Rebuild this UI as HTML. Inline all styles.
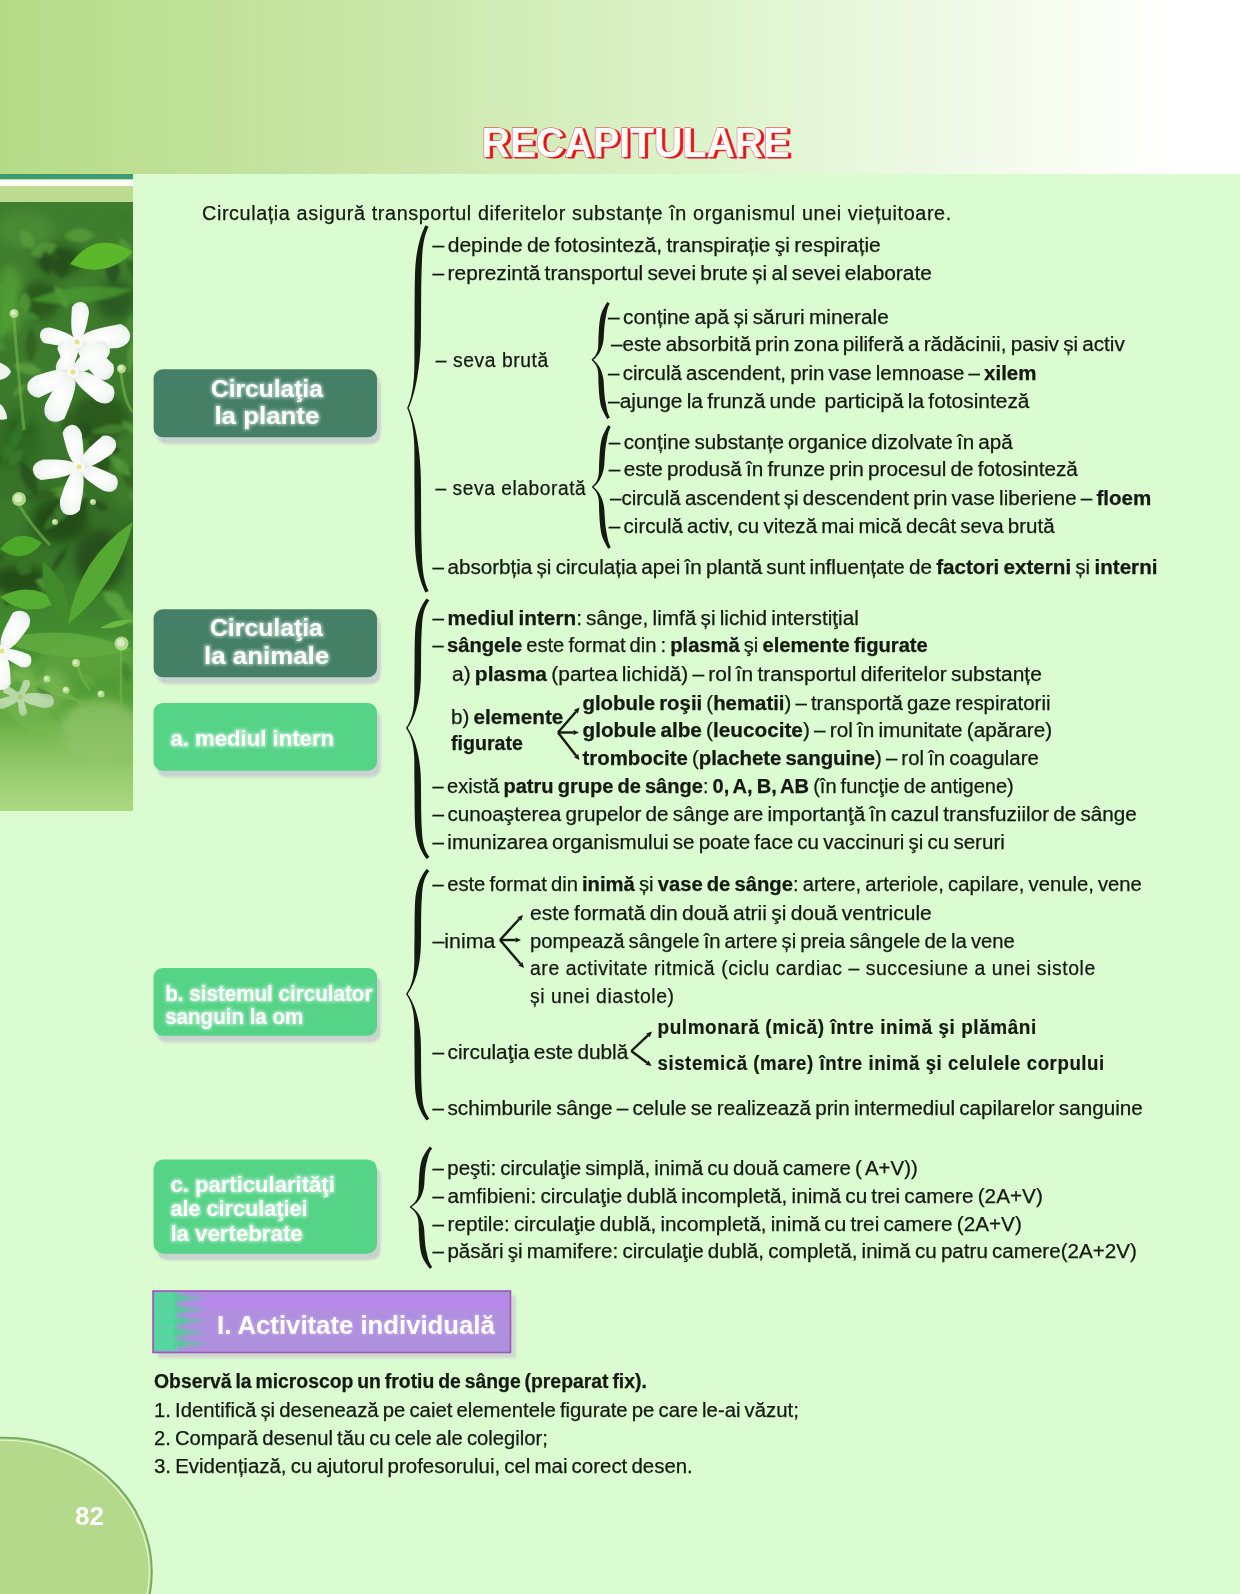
<!DOCTYPE html><html><head><meta charset="utf-8"><style>html,body{margin:0;padding:0;width:1240px;height:1594px;overflow:hidden;background:#dbfbd0}svg{display:block}text{font-family:"Liberation Sans",sans-serif;white-space:pre}</style></head><body>
<svg width="1240" height="1594" viewBox="0 0 1240 1594">
<defs>
<linearGradient id="hdr" x1="0" y1="0" x2="1" y2="0">
<stop offset="0" stop-color="#b5db87"/><stop offset="0.25" stop-color="#c6e4a2"/><stop offset="0.5" stop-color="#d8f0c2"/><stop offset="0.58" stop-color="#ddf4cc"/><stop offset="0.75" stop-color="#eef9e5"/><stop offset="0.87" stop-color="#f9fdf3"/><stop offset="0.95" stop-color="#ffffff"/><stop offset="1" stop-color="#ffffff"/>
</linearGradient>
<linearGradient id="fade" x1="0" y1="0" x2="0" y2="1">
<stop offset="0" stop-color="#b9dc93" stop-opacity="0"/><stop offset="0.55" stop-color="#b9dc93" stop-opacity="0.55"/><stop offset="1" stop-color="#bfe09a" stop-opacity="1"/>
</linearGradient>
<linearGradient id="dots" x1="0" y1="0" x2="1" y2="0">
<stop offset="0" stop-color="#4fdc9c"/><stop offset="0.45" stop-color="#4fd49a"/><stop offset="1" stop-color="#4fd49a" stop-opacity="0"/>
</linearGradient>
<linearGradient id="ban" x1="0" y1="1291" x2="0" y2="1352.5" gradientUnits="userSpaceOnUse">
<stop offset="0" stop-color="#ad90dc"/><stop offset="0.15" stop-color="#b886ec"/><stop offset="0.35" stop-color="#b08ee0"/><stop offset="1" stop-color="#ae90dc"/>
</linearGradient>
<filter id="glow" x="-10%" y="-30%" width="120%" height="160%"><feGaussianBlur stdDeviation="1.6"/></filter>
<filter id="blur2" x="-20%" y="-20%" width="140%" height="140%"><feGaussianBlur stdDeviation="2.5"/></filter>
<filter id="blur1" x="-20%" y="-20%" width="140%" height="140%"><feGaussianBlur stdDeviation="0.8"/></filter>
<clipPath id="photo"><rect x="0" y="202" width="133" height="609"/></clipPath>
</defs>
<rect x="0" y="0" width="1240" height="1594" fill="#dbfbd0"/>
<rect x="0" y="0" width="1240" height="174" fill="url(#hdr)"/>
<rect x="0" y="174" width="133" height="28" fill="#bddc92"/>
<rect x="0" y="174" width="133" height="5.5" fill="#3e9a6c"/>
<rect x="0" y="179.5" width="133" height="6.5" fill="#fbfef4"/>
<g clip-path="url(#photo)">
<rect x="0" y="202" width="133" height="609" fill="#2f6a22"/>
<defs>
<linearGradient id="pbg" x1="0" y1="202" x2="0" y2="811" gradientUnits="userSpaceOnUse">
<stop offset="0" stop-color="#3f7e2e"/><stop offset="0.3" stop-color="#3c7a2c"/><stop offset="0.55" stop-color="#346e26"/><stop offset="0.72" stop-color="#438f30"/><stop offset="0.85" stop-color="#5aa63a"/><stop offset="1" stop-color="#94cc66"/>
</linearGradient>
<linearGradient id="pfade" x1="0" y1="700" x2="0" y2="811" gradientUnits="userSpaceOnUse">
<stop offset="0" stop-color="#86c25c" stop-opacity="0"/><stop offset="0.45" stop-color="#96cb6e" stop-opacity="0.6"/><stop offset="1" stop-color="#acd884" stop-opacity="1"/>
</linearGradient>
<filter id="pb4" x="-50%" y="-50%" width="200%" height="200%"><feGaussianBlur stdDeviation="5"/></filter>
<filter id="pb2" x="-50%" y="-50%" width="200%" height="200%"><feGaussianBlur stdDeviation="1.6"/></filter>
<filter id="pb1" x="-50%" y="-50%" width="200%" height="200%"><feGaussianBlur stdDeviation="0.6"/></filter>
<radialGradient id="petal" cx="0.5" cy="0.5" r="0.6"><stop offset="0" stop-color="#ffffff"/><stop offset="0.75" stop-color="#f3f7f4"/><stop offset="1" stop-color="#dfe8e4"/></radialGradient>
</defs>
<rect x="0" y="202" width="133" height="609" fill="url(#pbg)"/>
<g filter="url(#pb4)">
<ellipse cx="25" cy="230" rx="28" ry="18" fill="#4a8a36"/>
<ellipse cx="95" cy="222" rx="30" ry="14" fill="#3e7e2e"/>
<ellipse cx="60" cy="260" rx="25" ry="16" fill="#2a5a1e"/>
<ellipse cx="10" cy="300" rx="14" ry="35" fill="#4f9a36"/>
<ellipse cx="40" cy="300" rx="20" ry="20" fill="#2a5a1e"/>
<ellipse cx="115" cy="300" rx="20" ry="20" fill="#2c5c20"/>
<ellipse cx="100" cy="420" rx="30" ry="25" fill="#2a5a1e"/>
<ellipse cx="20" cy="440" rx="22" ry="30" fill="#2f6a22"/>
<ellipse cx="125" cy="470" rx="15" ry="40" fill="#3d7d2c"/>
<ellipse cx="10" cy="520" rx="18" ry="25" fill="#3a7a2c"/>
<ellipse cx="60" cy="520" rx="28" ry="22" fill="#244e18"/>
<ellipse cx="100" cy="560" rx="25" ry="30" fill="#284f1a"/>
<ellipse cx="20" cy="580" rx="30" ry="15" fill="#244e18"/>
<ellipse cx="90" cy="660" rx="50" ry="20" fill="#5aa03a"/>
<ellipse cx="30" cy="690" rx="40" ry="25" fill="#6fb04c"/>
<ellipse cx="100" cy="730" rx="40" ry="30" fill="#84bc60"/>
</g>
<g filter="url(#pb2)">
<path d="M12.6,365.3 Q25.3,379.9 43.1,372.4 Q30.4,357.8 12.6,365.3 Z" fill="#62aa42" opacity="0.70"/>
<path d="M126.5,493.5 Q133.6,506.0 146.1,498.9 Q139.0,486.4 126.5,493.5 Z" fill="#4a9036" opacity="0.70"/>
<path d="M53.7,249.9 Q67.1,264.3 86.7,263.4 Q73.3,249.0 53.7,249.9 Z" fill="#23481a" opacity="0.70"/>
<path d="M49.5,490.7 Q66.9,508.0 88.5,496.4 Q71.1,479.1 49.5,490.7 Z" fill="#58a03c" opacity="0.70"/>
<path d="M71.1,412.5 Q55.8,424.4 65.6,441.2 Q80.9,429.3 71.1,412.5 Z" fill="#2c5c20" opacity="0.70"/>
<path d="M85.8,492.9 Q77.5,503.9 82.2,516.9 Q90.6,505.9 85.8,492.9 Z" fill="#23481a" opacity="0.70"/>
<path d="M64.5,511.4 Q46.8,512.4 42.8,529.6 Q60.5,528.7 64.5,511.4 Z" fill="#3e7e2e" opacity="0.70"/>
<path d="M27.3,384.0 Q15.4,384.9 12.3,396.4 Q24.1,395.5 27.3,384.0 Z" fill="#58a03c" opacity="0.70"/>
<path d="M121.3,465.0 Q119.1,487.8 141.8,491.1 Q144.0,468.3 121.3,465.0 Z" fill="#2c5c20" opacity="0.70"/>
<path d="M14.7,458.4 Q1.1,450.9 -8.3,463.3 Q5.4,470.9 14.7,458.4 Z" fill="#2c5c20" opacity="0.70"/>
<path d="M76.0,583.5 Q75.3,606.0 96.3,614.2 Q96.9,591.7 76.0,583.5 Z" fill="#3e7e2e" opacity="0.70"/>
<path d="M58.4,492.0 Q38.8,484.6 23.0,498.3 Q42.6,505.7 58.4,492.0 Z" fill="#2c5c20" opacity="0.70"/>
<path d="M95.2,235.0 Q79.3,221.2 64.1,235.7 Q79.9,249.6 95.2,235.0 Z" fill="#58a03c" opacity="0.70"/>
<path d="M123.1,559.7 Q109.7,552.5 99.8,564.1 Q113.2,571.3 123.1,559.7 Z" fill="#2c5c20" opacity="0.70"/>
<path d="M22.7,449.4 Q7.9,450.7 7.6,465.6 Q22.5,464.3 22.7,449.4 Z" fill="#3e7e2e" opacity="0.70"/>
<path d="M57.4,244.9 Q38.9,236.8 30.5,255.2 Q49.0,263.3 57.4,244.9 Z" fill="#58a03c" opacity="0.70"/>
<path d="M138.0,554.7 Q136.1,572.6 149.7,584.5 Q151.6,566.5 138.0,554.7 Z" fill="#2c5c20" opacity="0.70"/>
<path d="M24.8,292.2 Q13.4,303.2 25.8,313.0 Q37.2,302.1 24.8,292.2 Z" fill="#58a03c" opacity="0.70"/>
<path d="M11.9,344.6 Q-1.6,354.8 2.3,371.2 Q15.7,361.0 11.9,344.6 Z" fill="#3a7a2a" opacity="0.70"/>
<path d="M67.3,546.8 Q53.8,556.3 51.3,572.7 Q64.9,563.2 67.3,546.8 Z" fill="#22461a" opacity="0.70"/>
<path d="M49.1,402.0 Q45.8,417.3 57.4,427.8 Q60.8,412.5 49.1,402.0 Z" fill="#4a9036" opacity="0.70"/>
<path d="M6.5,423.1 Q17.0,438.9 35.0,432.6 Q24.4,416.8 6.5,423.1 Z" fill="#2c5c20" opacity="0.70"/>
<path d="M82.1,674.7 Q82.8,687.6 95.4,684.9 Q94.6,672.1 82.1,674.7 Z" fill="#62aa44" opacity="0.70"/>
<path d="M61.1,503.1 Q45.7,512.7 61.8,521.0 Q77.2,511.5 61.1,503.1 Z" fill="#3e7e2e" opacity="0.70"/>
<path d="M2.9,444.5 Q-0.6,456.3 11.2,460.0 Q14.7,448.1 2.9,444.5 Z" fill="#3a7a2a" opacity="0.70"/>
<path d="M20.8,460.6 Q17.2,483.6 37.1,495.8 Q40.6,472.8 20.8,460.6 Z" fill="#23481a" opacity="0.70"/>
<path d="M34.7,580.3 Q45.5,598.5 64.5,589.0 Q53.7,570.8 34.7,580.3 Z" fill="#62aa42" opacity="0.70"/>
<path d="M43.4,654.6 Q31.1,663.3 40.7,675.0 Q52.9,666.2 43.4,654.6 Z" fill="#55a03a" opacity="0.70"/>
<path d="M112.7,604.0 Q118.1,623.4 138.1,625.9 Q132.7,606.5 112.7,604.0 Z" fill="#62aa42" opacity="0.70"/>
<path d="M138.4,566.8 Q132.0,584.8 141.5,601.5 Q147.9,583.5 138.4,566.8 Z" fill="#62aa42" opacity="0.70"/>
<path d="M130.6,426.4 Q109.5,419.6 91.2,432.0 Q112.3,438.7 130.6,426.4 Z" fill="#4a9036" opacity="0.70"/>
<path d="M60.5,255.6 Q45.3,268.1 61.8,279.0 Q77.0,266.4 60.5,255.6 Z" fill="#23481a" opacity="0.70"/>
<path d="M87.9,442.3 Q101.5,459.1 121.7,451.5 Q108.1,434.8 87.9,442.3 Z" fill="#22461a" opacity="0.70"/>
<path d="M102.5,592.2 Q106.5,611.2 125.3,606.6 Q121.3,587.6 102.5,592.2 Z" fill="#62aa42" opacity="0.70"/>
<path d="M131.9,247.9 Q120.5,265.9 135.7,280.8 Q147.2,262.8 131.9,247.9 Z" fill="#2c5c20" opacity="0.70"/>
<path d="M15.5,563.8 Q16.7,581.3 31.7,572.1 Q30.5,554.5 15.5,563.8 Z" fill="#3a7a2a" opacity="0.70"/>
<path d="M79.4,507.7 Q64.7,502.9 53.0,513.0 Q67.7,517.8 79.4,507.7 Z" fill="#3a7a2a" opacity="0.70"/>
<path d="M109.9,215.6 Q121.3,233.6 141.3,226.1 Q129.9,208.1 109.9,215.6 Z" fill="#3a7a2a" opacity="0.70"/>
<path d="M120.8,419.7 Q129.6,437.4 148.9,441.7 Q140.1,424.0 120.8,419.7 Z" fill="#58a03c" opacity="0.70"/>
<path d="M104.6,453.1 Q88.7,462.5 101.3,476.0 Q117.1,466.5 104.6,453.1 Z" fill="#23481a" opacity="0.70"/>
<path d="M43.1,655.5 Q25.1,664.3 36.2,681.0 Q54.2,672.1 43.1,655.5 Z" fill="#55a03a" opacity="0.70"/>
<path d="M68.5,468.3 Q62.3,477.3 71.4,483.4 Q77.7,474.4 68.5,468.3 Z" fill="#23481a" opacity="0.70"/>
<path d="M12.5,589.1 Q2.4,595.1 5.7,606.4 Q15.8,600.4 12.5,589.1 Z" fill="#23481a" opacity="0.70"/>
<path d="M67.8,366.4 Q52.1,369.9 45.3,384.5 Q60.9,380.9 67.8,366.4 Z" fill="#23481a" opacity="0.70"/>
<path d="M31.5,328.0 Q19.5,344.9 30.7,362.3 Q42.7,345.4 31.5,328.0 Z" fill="#2c5c20" opacity="0.70"/>
<path d="M81.9,424.4 Q68.4,437.7 80.8,452.0 Q94.3,438.7 81.9,424.4 Z" fill="#3e7e2e" opacity="0.70"/>
<path d="M111.1,456.5 Q113.1,474.3 130.8,476.0 Q128.9,458.3 111.1,456.5 Z" fill="#58a03c" opacity="0.70"/>
<path d="M123.9,661.8 Q115.5,673.3 127.2,681.6 Q135.6,670.0 123.9,661.8 Z" fill="#3d8030" opacity="0.70"/>
<path d="M90.7,361.4 Q95.2,376.5 110.9,377.3 Q106.4,362.3 90.7,361.4 Z" fill="#2c5c20" opacity="0.70"/>
<path d="M13.2,649.0 Q-1.3,659.9 -2.7,677.8 Q11.7,667.0 13.2,649.0 Z" fill="#3d8030" opacity="0.70"/>
<path d="M132.9,313.7 Q117.5,326.8 133.9,338.6 Q149.3,325.5 132.9,313.7 Z" fill="#4a9036" opacity="0.70"/>
<path d="M54.7,284.9 Q54.5,301.0 68.2,309.3 Q68.4,293.3 54.7,284.9 Z" fill="#62aa42" opacity="0.70"/>
<path d="M44.9,250.6 Q33.5,263.9 47.9,273.9 Q59.3,260.6 44.9,250.6 Z" fill="#22461a" opacity="0.70"/>
<path d="M83.6,369.1 Q94.0,387.4 110.8,374.7 Q100.4,356.4 83.6,369.1 Z" fill="#4a9036" opacity="0.70"/>
<path d="M5.7,686.0 Q14.7,701.0 27.2,688.7 Q18.2,673.6 5.7,686.0 Z" fill="#55a03a" opacity="0.70"/>
<path d="M117.4,610.8 Q100.0,603.6 86.0,616.2 Q103.4,623.4 117.4,610.8 Z" fill="#3e7e2e" opacity="0.70"/>
<path d="M3.4,551.7 Q-9.7,552.8 -5.7,565.4 Q7.4,564.2 3.4,551.7 Z" fill="#2c5c20" opacity="0.70"/>
<path d="M-7.5,338.1 Q-10.4,352.7 4.3,350.7 Q7.2,336.1 -7.5,338.1 Z" fill="#4a9036" opacity="0.70"/>
<path d="M119.4,238.0 Q115.7,255.1 132.2,261.0 Q135.9,243.9 119.4,238.0 Z" fill="#58a03c" opacity="0.70"/>
<path d="M-3.5,512.7 Q-22.6,500.5 -35.6,519.1 Q-16.5,531.3 -3.5,512.7 Z" fill="#58a03c" opacity="0.70"/>
<path d="M20.3,229.9 Q15.7,247.1 33.4,248.6 Q37.9,231.4 20.3,229.9 Z" fill="#58a03c" opacity="0.70"/>
<path d="M90.8,425.6 Q72.7,418.9 73.1,438.2 Q91.2,444.9 90.8,425.6 Z" fill="#23481a" opacity="0.70"/>
<path d="M100.0,212.6 Q105.9,229.6 123.8,228.7 Q117.9,211.8 100.0,212.6 Z" fill="#3e7e2e" opacity="0.70"/>
<path d="M112.8,257.6 Q98.7,270.7 113.2,283.4 Q127.4,270.3 112.8,257.6 Z" fill="#22461a" opacity="0.70"/>
<path d="M36.2,685.3 Q38.5,698.0 51.5,698.8 Q49.1,686.0 36.2,685.3 Z" fill="#3d8030" opacity="0.70"/>
<path d="M137.3,694.8 Q154.7,707.8 173.2,696.4 Q155.8,683.3 137.3,694.8 Z" fill="#3d8030" opacity="0.70"/>
<path d="M2.7,285.8 Q-18.9,281.3 -30.4,300.1 Q-8.8,304.6 2.7,285.8 Z" fill="#58a03c" opacity="0.70"/>
<path d="M93.9,501.4 Q95.9,513.1 107.4,510.3 Q105.4,498.6 93.9,501.4 Z" fill="#23481a" opacity="0.70"/>
<path d="M134.3,335.3 Q123.0,353.5 128.5,374.2 Q139.7,356.0 134.3,335.3 Z" fill="#58a03c" opacity="0.70"/>
<path d="M17.4,312.8 Q26.4,324.4 40.0,318.9 Q31.0,307.4 17.4,312.8 Z" fill="#4a9036" opacity="0.70"/>
</g>
<g filter="url(#pb2)">
<path d="M30.0,300.0 Q83.0,310.9 133.0,290.0 Q80.0,279.1 30.0,300.0 Z" fill="#4a9a30" opacity="0.80"/>
<path d="M0.0,340.0 Q19.1,315.7 15.0,285.0 Q-4.1,309.3 0.0,340.0 Z" fill="#4f9e34" opacity="0.90"/>
<path d="M0.0,470.0 Q28.9,434.5 40.0,390.0 Q11.1,425.5 0.0,470.0 Z" fill="#357a26" opacity="0.70"/>
</g>
<g filter="url(#pb1)">
<path d="M70.0,264.0 Q105.6,279.6 133.0,252.0 Q95.9,228.5 70.0,264.0 Z" fill="#5cb82c" opacity="1.00"/>
<path d="M0.0,549.0 Q23.8,565.8 42.0,543.0 Q18.2,526.2 0.0,549.0 Z" fill="#4ea82a" opacity="1.00"/>
<path d="M0.0,597.0 Q27.3,619.4 58.0,602.0 Q30.7,579.6 0.0,597.0 Z" fill="#56ae30" opacity="1.00"/>
<path d="M43.0,561.0 Q38.8,599.1 68.0,624.0 Q72.2,585.9 43.0,561.0 Z" fill="#3f8a2c" opacity="1.00"/>
<path d="M68.0,624.0 Q118.2,584.3 133.0,522.0 Q77.7,558.5 68.0,624.0 Z" fill="#55a832" opacity="1.00"/>
<path d="M100.0,628.0 Q117.9,629.8 133.0,620.0 Q115.1,618.2 100.0,628.0 Z" fill="#6cb845" opacity="1.00"/>
<path d="M0.0,640.0 Q64.7,668.9 133.0,650.0 Q68.3,621.1 0.0,640.0 Z" fill="#62ac3e" opacity="0.85"/>
<path d="M0.0,700.0 Q23.1,740.8 70.0,740.0 Q46.9,699.2 0.0,700.0 Z" fill="#6cb04a" opacity="0.60"/>
</g>
<g stroke="#78b848" fill="none" filter="url(#pb1)" opacity="0.6">
<path d="M14,318 C16,350 20,390 24,430" stroke-width="3"/>
<path d="M121,373 C123,390 126,405 133,412" stroke-width="3"/>
<path d="M19,505 C28,520 40,535 50,545" stroke-width="3"/>
<path d="M121,650 C121,670 121,690 121,705" stroke-width="2.5"/>
<path d="M14,672 C40,690 70,700 110,708" stroke-width="3"/>
<path d="M77,663 C80,675 85,685 90,690" stroke-width="3"/>
<path d="M45,677 C60,690 75,700 95,712" stroke-width="2.5"/>
</g>
<circle cx="14.0" cy="313.5" r="4.5" fill="#b6dc90" opacity="0.95"/>
<circle cx="13.2" cy="312.7" r="2.5" fill="#e2f2cc" opacity="0.8"/>
<circle cx="121.5" cy="368.7" r="4.5" fill="#b6dc90" opacity="0.95"/>
<circle cx="120.7" cy="367.9" r="2.5" fill="#e2f2cc" opacity="0.8"/>
<circle cx="19.0" cy="499.0" r="7.0" fill="#b6dc90" opacity="0.95"/>
<circle cx="18.2" cy="498.2" r="3.9" fill="#e2f2cc" opacity="0.8"/>
<circle cx="121.5" cy="643.5" r="7.0" fill="#b6dc90" opacity="0.95"/>
<circle cx="120.7" cy="642.7" r="3.9" fill="#e2f2cc" opacity="0.8"/>
<circle cx="76.0" cy="663.0" r="4.0" fill="#b6dc90" opacity="0.95"/>
<circle cx="75.2" cy="662.2" r="2.2" fill="#e2f2cc" opacity="0.8"/>
<circle cx="66.0" cy="690.0" r="3.5" fill="#b6dc90" opacity="0.95"/>
<circle cx="65.2" cy="689.2" r="1.9" fill="#e2f2cc" opacity="0.8"/>
<circle cx="101.0" cy="694.0" r="3.5" fill="#b6dc90" opacity="0.95"/>
<circle cx="100.2" cy="693.2" r="1.9" fill="#e2f2cc" opacity="0.8"/>
<circle cx="47.0" cy="679.0" r="3.5" fill="#b6dc90" opacity="0.95"/>
<circle cx="46.2" cy="678.2" r="1.9" fill="#e2f2cc" opacity="0.8"/>
<circle cx="55.0" cy="522.0" r="3.0" fill="#b6dc90" opacity="0.95"/>
<circle cx="54.2" cy="521.2" r="1.7" fill="#e2f2cc" opacity="0.8"/>
<circle cx="93.0" cy="502.0" r="3.0" fill="#b6dc90" opacity="0.95"/>
<circle cx="92.2" cy="501.2" r="1.7" fill="#e2f2cc" opacity="0.8"/>
<g filter="url(#pb1)">
<g opacity="1.00">
<path d="M77.0,342.0 C85.0,338.0 86.7,324.8 89.0,312.9 Q88.8,304.0 82.5,302.2 Q75.4,301.4 71.9,307.2 C70.9,323.2 70.0,336.4 77.0,342.0 Z" fill="url(#petal)"/>
<path d="M77.0,342.0 C84.9,351.0 102.4,348.9 118.6,348.0 Q130.0,344.7 130.3,336.0 Q128.9,326.5 120.4,324.0 C99.3,327.9 81.9,331.1 77.0,342.0 Z" fill="url(#petal)"/>
<path d="M77.0,342.0 C74.1,334.1 61.9,331.1 51.1,327.7 Q42.7,326.9 40.3,332.6 Q38.9,339.2 43.9,343.0 C58.8,345.7 71.1,348.0 77.0,342.0 Z" fill="url(#petal)"/>
<path d="M77.0,342.0 C74.5,352.6 85.4,364.5 94.6,375.9 Q103.1,382.7 109.7,378.3 Q115.9,372.2 113.3,364.6 C99.2,351.0 87.7,339.8 77.0,342.0 Z" fill="url(#petal)"/>
<path d="M77.0,342.0 C68.8,342.8 62.8,353.5 56.8,362.9 Q54.0,370.7 58.8,374.4 Q64.7,377.4 69.5,373.6 C75.9,360.2 81.2,349.2 77.0,342.0 Z" fill="url(#petal)"/>
<circle cx="77.0" cy="342.0" r="6" fill="#f6f9f6"/>
<circle cx="77.0" cy="342.0" r="2.6" fill="#e4e48a"/>
</g>
<g opacity="1.00">
<path d="M73.0,372.0 C82.3,375.3 94.1,366.8 105.3,359.6 Q112.3,352.7 109.0,346.3 Q104.2,340.1 97.0,341.6 C83.4,352.9 72.1,362.2 73.0,372.0 Z" fill="url(#petal)"/>
<path d="M73.0,372.0 C64.0,365.8 49.0,371.7 35.0,376.1 Q25.6,381.5 27.3,389.3 Q30.7,397.3 38.8,397.7 C56.5,389.4 71.2,382.7 73.0,372.0 Z" fill="url(#petal)"/>
<path d="M73.0,372.0 C61.1,373.7 53.4,389.7 45.4,403.8 Q42.0,415.2 49.2,420.2 Q57.9,424.1 64.7,418.3 C72.8,398.4 79.6,382.0 73.0,372.0 Z" fill="url(#petal)"/>
<path d="M73.0,372.0 C72.7,382.8 85.7,392.0 96.9,401.3 Q106.5,406.1 112.0,400.5 Q116.8,393.4 112.7,386.5 C96.3,376.3 82.9,367.7 73.0,372.0 Z" fill="url(#petal)"/>
<path d="M73.0,372.0 C77.3,366.3 74.0,356.3 71.5,347.0 Q68.3,340.7 63.1,341.6 Q57.8,343.6 57.3,348.8 C62.1,360.7 66.0,370.5 73.0,372.0 Z" fill="url(#petal)"/>
<circle cx="73.0" cy="372.0" r="6" fill="#f6f9f6"/>
<circle cx="73.0" cy="372.0" r="2.6" fill="#e4e48a"/>
</g>
<g opacity="1.00">
<path d="M79.0,467.0 C85.8,460.3 83.2,446.3 81.7,433.5 Q78.6,424.5 71.6,424.7 Q64.1,426.3 62.5,433.2 C66.7,449.9 70.0,463.7 79.0,467.0 Z" fill="url(#petal)"/>
<path d="M79.0,467.0 C88.5,470.2 100.3,461.3 111.6,453.9 Q118.5,446.7 115.1,440.3 Q110.1,434.1 102.8,435.8 C89.2,447.5 77.9,457.1 79.0,467.0 Z" fill="url(#petal)"/>
<path d="M79.0,467.0 C79.8,476.5 92.2,483.5 103.0,490.6 Q111.9,493.9 116.2,488.4 Q119.8,481.6 115.5,476.0 C100.0,468.5 87.3,462.3 79.0,467.0 Z" fill="url(#petal)"/>
<path d="M79.0,467.0 C68.7,470.7 64.6,486.4 59.9,500.5 Q58.9,511.4 66.2,514.6 Q74.8,516.6 79.8,510.1 C83.5,490.8 86.7,474.8 79.0,467.0 Z" fill="url(#petal)"/>
<path d="M79.0,467.0 C72.7,458.8 57.5,459.7 43.6,459.6 Q33.6,461.8 32.8,469.3 Q33.6,477.5 40.7,480.1 C59.1,477.9 74.2,476.1 79.0,467.0 Z" fill="url(#petal)"/>
<circle cx="79.0" cy="467.0" r="6" fill="#f6f9f6"/>
<circle cx="79.0" cy="467.0" r="2.6" fill="#e4e48a"/>
</g>
<path d="M-2,362 C4,364 10,368 11,372 C8,378 2,380 -2,380 Z" fill="#f0f4f0"/>
<path d="M-2,403 C3,405 7,412 7,419 C3,420 0,420 -2,419 Z" fill="#eef3ee"/>
<g opacity="1.00">
<path d="M2.0,651.0 C12.6,650.9 20.5,638.3 28.6,627.3 Q32.5,618.0 26.6,612.9 Q19.1,608.5 12.8,612.7 C4.2,628.6 -3.0,641.7 2.0,651.0 Z" fill="url(#petal)"/>
<path d="M2.0,651.0 C3.1,658.2 12.5,662.5 20.9,667.0 Q27.6,668.7 30.5,664.2 Q32.8,658.6 29.3,654.7 C17.6,650.3 7.9,646.6 2.0,651.0 Z" fill="url(#petal)"/>
<path d="M2.0,651.0 C-5.8,655.7 -6.2,668.5 -7.4,680.2 Q-6.2,688.8 0.4,690.0 Q7.8,690.0 10.8,684.1 C10.2,668.5 9.8,655.7 2.0,651.0 Z" fill="url(#petal)"/>
<path d="M2.0,651.0 C1.0,644.3 -7.8,640.4 -15.6,636.3 Q-21.9,634.7 -24.6,638.9 Q-26.6,644.0 -23.4,647.7 C-12.5,651.7 -3.4,655.1 2.0,651.0 Z" fill="url(#petal)"/>
<circle cx="2.0" cy="651.0" r="6" fill="#f6f9f6"/>
<circle cx="2.0" cy="651.0" r="2.6" fill="#e4e48a"/>
</g>
<g opacity="0.55">
<path d="M20.0,697.0 C19.6,692.9 14.1,689.7 9.2,686.6 Q5.2,685.1 3.3,687.4 Q1.8,690.3 3.7,692.8 C10.6,696.2 16.3,699.0 20.0,697.0 Z" fill="url(#petal)"/>
<path d="M20.0,697.0 C23.2,703.7 34.4,705.7 44.4,708.1 Q52.0,708.3 53.8,703.2 Q54.7,697.4 49.9,694.4 C36.2,692.8 25.0,691.5 20.0,697.0 Z" fill="url(#petal)"/>
<path d="M20.0,697.0 C17.1,700.0 18.2,706.3 18.9,712.1 Q20.3,716.2 23.3,716.1 Q26.6,715.5 27.2,712.3 C25.4,704.8 23.9,698.6 20.0,697.0 Z" fill="url(#petal)"/>
<path d="M20.0,697.0 C15.6,693.9 7.9,696.7 0.8,698.8 Q-4.0,701.4 -3.3,705.2 Q-1.8,709.1 2.3,709.3 C11.4,705.4 18.9,702.2 20.0,697.0 Z" fill="url(#petal)"/>
<path d="M20.0,697.0 C24.0,696.4 26.8,690.9 29.7,686.0 Q31.0,682.0 28.6,680.3 Q25.7,678.9 23.4,680.9 C20.4,687.8 17.9,693.5 20.0,697.0 Z" fill="url(#petal)"/>
<circle cx="20.0" cy="697.0" r="6" fill="#f6f9f6"/>
<circle cx="20.0" cy="697.0" r="2.6" fill="#e4e48a"/>
</g>
</g>
<rect x="0" y="690" width="133" height="121" fill="url(#pfade)"/>
</g>
<text x="484.2" y="157.8" font-size="42" font-weight="700" fill="#e8101c" stroke="#e8101c" stroke-width="1.0" textLength="308" lengthAdjust="spacingAndGlyphs">RECAPITULARE</text>
<text x="481.5" y="156.6" font-size="42" font-weight="700" fill="#ffffff" stroke="#e43038" stroke-width="0.9" paint-order="stroke" textLength="308" lengthAdjust="spacingAndGlyphs">RECAPITULARE</text>
<rect x="157.1" y="375.8" width="223.4" height="67.9" rx="9" fill="#c8d2cf" filter="url(#blur1)"/>
<rect x="153.6" y="369.3" width="223.4" height="67.9" rx="9" fill="#457f66"/>
<rect x="157.1" y="615.8" width="223.4" height="67.9" rx="9" fill="#c8d2cf" filter="url(#blur1)"/>
<rect x="153.6" y="609.3" width="223.4" height="67.9" rx="9" fill="#457f66"/>
<rect x="157.1" y="709.5" width="223.4" height="67.7" rx="9" fill="#c8d2cf" filter="url(#blur1)"/>
<rect x="153.6" y="703.0" width="223.4" height="67.7" rx="9" fill="#55d387"/>
<rect x="157.1" y="974.5" width="223.4" height="67.7" rx="9" fill="#c8d2cf" filter="url(#blur1)"/>
<rect x="153.6" y="968.0" width="223.4" height="67.7" rx="9" fill="#55d387"/>
<rect x="157.1" y="1165.9" width="223.4" height="94.4" rx="10" fill="#c8d2cf" filter="url(#blur1)"/>
<rect x="153.6" y="1159.4" width="223.4" height="94.4" rx="10" fill="#55d387"/>
<rect x="158" y="1296" width="358" height="62" fill="#d0d8d2" filter="url(#blur1)"/>
<rect x="153" y="1291" width="357.5" height="61.5" fill="url(#ban)"/>
<g filter="url(#blur1)">
<rect x="154" y="1292" width="24" height="59.5" fill="#52d99e"/>
<ellipse cx="176.0" cy="1298.3" rx="2.80" ry="5.20" fill="#4fcf96"/>
<ellipse cx="181.7" cy="1298.3" rx="2.38" ry="4.45" fill="#4fcf96"/>
<ellipse cx="187.3" cy="1298.3" rx="1.96" ry="3.70" fill="#4fcf96"/>
<ellipse cx="192.9" cy="1298.3" rx="1.54" ry="2.95" fill="#4fcf96"/>
<ellipse cx="198.6" cy="1298.3" rx="1.12" ry="2.20" fill="#4fcf96"/>
<ellipse cx="204.2" cy="1298.3" rx="0.70" ry="1.45" fill="#4fcf96"/>
<ellipse cx="176.0" cy="1309.6" rx="2.80" ry="5.20" fill="#4fcf96"/>
<ellipse cx="181.7" cy="1309.6" rx="2.38" ry="4.45" fill="#4fcf96"/>
<ellipse cx="187.3" cy="1309.6" rx="1.96" ry="3.70" fill="#4fcf96"/>
<ellipse cx="192.9" cy="1309.6" rx="1.54" ry="2.95" fill="#4fcf96"/>
<ellipse cx="198.6" cy="1309.6" rx="1.12" ry="2.20" fill="#4fcf96"/>
<ellipse cx="204.2" cy="1309.6" rx="0.70" ry="1.45" fill="#4fcf96"/>
<ellipse cx="176.0" cy="1320.9" rx="2.80" ry="5.20" fill="#4fcf96"/>
<ellipse cx="181.7" cy="1320.9" rx="2.38" ry="4.45" fill="#4fcf96"/>
<ellipse cx="187.3" cy="1320.9" rx="1.96" ry="3.70" fill="#4fcf96"/>
<ellipse cx="192.9" cy="1320.9" rx="1.54" ry="2.95" fill="#4fcf96"/>
<ellipse cx="198.6" cy="1320.9" rx="1.12" ry="2.20" fill="#4fcf96"/>
<ellipse cx="204.2" cy="1320.9" rx="0.70" ry="1.45" fill="#4fcf96"/>
<ellipse cx="176.0" cy="1332.2" rx="2.80" ry="5.20" fill="#4fcf96"/>
<ellipse cx="181.7" cy="1332.2" rx="2.38" ry="4.45" fill="#4fcf96"/>
<ellipse cx="187.3" cy="1332.2" rx="1.96" ry="3.70" fill="#4fcf96"/>
<ellipse cx="192.9" cy="1332.2" rx="1.54" ry="2.95" fill="#4fcf96"/>
<ellipse cx="198.6" cy="1332.2" rx="1.12" ry="2.20" fill="#4fcf96"/>
<ellipse cx="204.2" cy="1332.2" rx="0.70" ry="1.45" fill="#4fcf96"/>
<ellipse cx="176.0" cy="1343.5" rx="2.80" ry="5.20" fill="#4fcf96"/>
<ellipse cx="181.7" cy="1343.5" rx="2.38" ry="4.45" fill="#4fcf96"/>
<ellipse cx="187.3" cy="1343.5" rx="1.96" ry="3.70" fill="#4fcf96"/>
<ellipse cx="192.9" cy="1343.5" rx="1.54" ry="2.95" fill="#4fcf96"/>
<ellipse cx="198.6" cy="1343.5" rx="1.12" ry="2.20" fill="#4fcf96"/>
<ellipse cx="204.2" cy="1343.5" rx="0.70" ry="1.45" fill="#4fcf96"/>
<ellipse cx="159.8" cy="1304.0" rx="1.2" ry="2.2" fill="#8fb0d8" opacity="0.5"/>
<ellipse cx="165.5" cy="1304.0" rx="1.2" ry="2.2" fill="#8fb0d8" opacity="0.5"/>
<ellipse cx="171.1" cy="1304.0" rx="1.2" ry="2.2" fill="#8fb0d8" opacity="0.5"/>
<ellipse cx="176.8" cy="1304.0" rx="1.2" ry="2.2" fill="#8fb0d8" opacity="0.5"/>
<ellipse cx="159.8" cy="1315.3" rx="1.2" ry="2.2" fill="#8fb0d8" opacity="0.5"/>
<ellipse cx="165.5" cy="1315.3" rx="1.2" ry="2.2" fill="#8fb0d8" opacity="0.5"/>
<ellipse cx="171.1" cy="1315.3" rx="1.2" ry="2.2" fill="#8fb0d8" opacity="0.5"/>
<ellipse cx="176.8" cy="1315.3" rx="1.2" ry="2.2" fill="#8fb0d8" opacity="0.5"/>
<ellipse cx="159.8" cy="1326.6" rx="1.2" ry="2.2" fill="#8fb0d8" opacity="0.5"/>
<ellipse cx="165.5" cy="1326.6" rx="1.2" ry="2.2" fill="#8fb0d8" opacity="0.5"/>
<ellipse cx="171.1" cy="1326.6" rx="1.2" ry="2.2" fill="#8fb0d8" opacity="0.5"/>
<ellipse cx="176.8" cy="1326.6" rx="1.2" ry="2.2" fill="#8fb0d8" opacity="0.5"/>
<ellipse cx="159.8" cy="1337.9" rx="1.2" ry="2.2" fill="#8fb0d8" opacity="0.5"/>
<ellipse cx="165.5" cy="1337.9" rx="1.2" ry="2.2" fill="#8fb0d8" opacity="0.5"/>
<ellipse cx="171.1" cy="1337.9" rx="1.2" ry="2.2" fill="#8fb0d8" opacity="0.5"/>
<ellipse cx="176.8" cy="1337.9" rx="1.2" ry="2.2" fill="#8fb0d8" opacity="0.5"/>
<ellipse cx="159.8" cy="1349.2" rx="1.2" ry="2.2" fill="#8fb0d8" opacity="0.5"/>
<ellipse cx="165.5" cy="1349.2" rx="1.2" ry="2.2" fill="#8fb0d8" opacity="0.5"/>
<ellipse cx="171.1" cy="1349.2" rx="1.2" ry="2.2" fill="#8fb0d8" opacity="0.5"/>
<ellipse cx="176.8" cy="1349.2" rx="1.2" ry="2.2" fill="#8fb0d8" opacity="0.5"/>
</g>
<rect x="153" y="1291" width="357.5" height="61.5" fill="none" stroke="#9a58b8" stroke-width="1.6"/>
<ellipse cx="2.9" cy="1571.9" rx="149" ry="134.2" fill="#b4d98a" stroke="#72a862" stroke-width="1.8"/>
<ellipse cx="2.9" cy="1571.9" rx="146.4" ry="131.6" fill="none" stroke="#e8f6d6" stroke-width="1.1"/>
<text x="75" y="1524.6" font-size="25" font-weight="700" fill="#ffffff" textLength="29" lengthAdjust="spacingAndGlyphs">82</text>
<g fill="#141a12">
<path d="M425.44,225.21 L424.31,227.55 L423.29,229.88 L422.35,232.21 L421.50,234.52 L420.73,236.84 L420.02,239.15 L419.38,241.46 L418.79,243.76 L418.26,246.07 L417.77,248.38 L417.33,250.68 L416.93,252.98 L416.58,255.29 L416.26,257.59 L415.97,259.89 L415.73,262.19 L415.52,264.49 L415.34,266.79 L415.20,269.08 L415.10,271.38 L415.02,273.67 L414.95,275.96 L414.89,278.25 L414.84,280.53 L414.80,282.82 L414.76,285.10 L414.73,287.38 L414.70,289.67 L414.68,291.95 L414.66,294.22 L414.65,296.50 L414.63,298.78 L414.62,301.06 L414.61,303.34 L414.60,305.61 L414.59,307.89 L414.58,310.16 L414.57,312.44 L414.56,314.71 L414.55,316.99 L414.54,319.26 L414.53,321.53 L414.52,323.81 L414.50,326.08 L414.48,328.35 L414.47,330.62 L414.44,332.89 L414.42,335.16 L414.39,337.43 L414.38,339.70 L414.38,341.97 L414.38,344.23 L414.38,346.50 L414.39,348.77 L414.40,351.03 L414.41,353.30 L414.42,355.56 L414.42,357.83 L414.41,360.09 L414.40,362.36 L414.37,364.62 L414.33,366.89 L414.28,369.15 L414.20,371.42 L414.10,373.69 L413.97,375.95 L413.82,378.22 L413.63,380.49 L413.41,382.76 L413.15,385.03 L412.84,387.30 L412.48,389.58 L412.07,391.85 L411.60,394.12 L411.07,396.39 L410.47,398.66 L409.79,400.93 L409.04,403.20 L408.19,405.46 L407.26,407.72 L407.26,408.28 L408.19,410.56 L409.04,412.84 L409.79,415.13 L410.47,417.42 L411.07,419.72 L411.60,422.01 L412.07,424.31 L412.48,426.60 L412.84,428.90 L413.15,431.19 L413.41,433.48 L413.63,435.78 L413.82,438.07 L413.97,440.36 L414.10,442.65 L414.20,444.94 L414.28,447.23 L414.33,449.52 L414.37,451.80 L414.40,454.09 L414.41,456.38 L414.42,458.67 L414.42,460.95 L414.41,463.24 L414.40,465.53 L414.39,467.82 L414.38,470.11 L414.38,472.40 L414.37,474.69 L414.38,476.98 L414.39,479.27 L414.42,481.56 L414.44,483.85 L414.47,486.14 L414.48,488.44 L414.50,490.73 L414.52,493.03 L414.53,495.32 L414.54,497.62 L414.55,499.91 L414.56,502.21 L414.57,504.51 L414.58,506.80 L414.59,509.10 L414.60,511.40 L414.61,513.70 L414.62,516.00 L414.63,518.30 L414.65,520.60 L414.66,522.90 L414.68,525.20 L414.70,527.50 L414.73,529.81 L414.76,532.11 L414.80,534.42 L414.84,536.73 L414.89,539.03 L414.95,541.34 L415.02,543.66 L415.10,545.97 L415.20,548.29 L415.34,550.61 L415.52,552.93 L415.73,555.25 L415.97,557.57 L416.26,559.89 L416.58,562.22 L416.93,564.54 L417.33,566.87 L417.77,569.20 L418.26,571.52 L418.79,573.85 L419.38,576.18 L420.02,578.51 L420.73,580.85 L421.50,583.18 L422.35,585.52 L423.28,587.87 L424.31,590.22 L425.43,592.58 L428.57,591.02 L427.52,588.79 L426.61,586.54 L425.82,584.29 L425.14,582.04 L424.55,579.78 L424.05,577.52 L423.62,575.25 L423.27,572.99 L422.97,570.72 L422.72,568.45 L422.51,566.19 L422.34,563.92 L422.20,561.65 L422.09,559.38 L421.99,557.11 L421.90,554.83 L421.83,552.56 L421.75,550.28 L421.68,548.01 L421.60,545.73 L421.52,543.45 L421.45,541.17 L421.39,538.88 L421.34,536.59 L421.30,534.31 L421.26,532.02 L421.23,529.73 L421.20,527.44 L421.18,525.14 L421.16,522.85 L421.15,520.56 L421.13,518.26 L421.12,515.97 L421.11,513.67 L421.10,511.37 L421.09,509.08 L421.08,506.78 L421.07,504.48 L421.06,502.18 L421.05,499.89 L421.04,497.59 L421.03,495.29 L421.02,492.99 L421.00,490.69 L420.98,488.39 L420.96,486.09 L420.94,483.78 L420.92,481.48 L420.88,479.18 L420.82,476.87 L420.75,474.57 L420.66,472.26 L420.55,469.96 L420.42,467.65 L420.27,465.35 L420.11,463.04 L419.93,460.73 L419.73,458.42 L419.51,456.12 L419.28,453.81 L419.02,451.50 L418.75,449.19 L418.45,446.89 L418.13,444.58 L417.79,442.28 L417.43,439.97 L417.04,437.67 L416.62,435.36 L416.17,433.06 L415.69,430.76 L415.18,428.46 L414.63,426.16 L414.05,423.86 L413.42,421.56 L412.74,419.26 L412.02,416.96 L411.24,414.65 L410.41,412.35 L409.51,410.04 L408.54,407.72 L408.54,408.28 L409.51,405.99 L410.41,403.70 L411.24,401.42 L412.02,399.14 L412.74,396.86 L413.42,394.58 L414.04,392.30 L414.63,390.02 L415.18,387.75 L415.69,385.47 L416.17,383.19 L416.62,380.91 L417.04,378.63 L417.43,376.35 L417.79,374.06 L418.13,371.78 L418.45,369.50 L418.75,367.21 L419.02,364.93 L419.28,362.64 L419.51,360.36 L419.73,358.07 L419.93,355.79 L420.11,353.50 L420.27,351.22 L420.42,348.93 L420.55,346.65 L420.66,344.37 L420.75,342.08 L420.82,339.80 L420.88,337.52 L420.92,335.24 L420.94,332.96 L420.96,330.68 L420.98,328.40 L421.00,326.12 L421.02,323.84 L421.03,321.57 L421.04,319.29 L421.05,317.01 L421.06,314.74 L421.07,312.46 L421.08,310.19 L421.09,307.91 L421.10,305.64 L421.11,303.36 L421.12,301.09 L421.13,298.82 L421.15,296.55 L421.16,294.28 L421.18,292.00 L421.20,289.73 L421.23,287.47 L421.26,285.20 L421.30,282.93 L421.34,280.67 L421.39,278.40 L421.45,276.14 L421.52,273.88 L421.60,271.62 L421.68,269.37 L421.75,267.11 L421.83,264.86 L421.90,262.61 L421.99,260.36 L422.09,258.11 L422.20,255.86 L422.34,253.62 L422.51,251.37 L422.72,249.12 L422.96,246.88 L423.26,244.64 L423.62,242.39 L424.05,240.15 L424.55,237.91 L425.14,235.68 L425.82,233.44 L426.61,231.22 L427.52,229.00 L428.56,226.79Z"/>
<path d="M426.63,598.41 L425.36,600.09 L424.21,601.76 L423.16,603.42 L422.21,605.07 L421.35,606.73 L420.56,608.38 L419.84,610.03 L419.19,611.68 L418.60,613.33 L418.07,614.98 L417.59,616.63 L417.15,618.28 L416.76,619.93 L416.41,621.58 L416.11,623.23 L415.84,624.87 L415.61,626.52 L415.42,628.16 L415.27,629.80 L415.15,631.43 L415.06,633.07 L414.99,634.69 L414.92,636.32 L414.86,637.95 L414.81,639.57 L414.77,641.19 L414.74,642.80 L414.71,644.42 L414.68,646.03 L414.66,647.65 L414.64,649.26 L414.63,650.87 L414.61,652.48 L414.60,654.09 L414.59,655.70 L414.58,657.30 L414.57,658.91 L414.56,660.52 L414.55,662.12 L414.54,663.73 L414.53,665.33 L414.52,666.93 L414.50,668.54 L414.49,670.14 L414.47,671.74 L414.44,673.34 L414.42,674.94 L414.39,676.54 L414.36,678.13 L414.35,679.73 L414.34,681.32 L414.33,682.92 L414.33,684.51 L414.34,686.11 L414.34,687.70 L414.34,689.29 L414.34,690.88 L414.33,692.47 L414.31,694.06 L414.29,695.65 L414.25,697.24 L414.19,698.83 L414.12,700.43 L414.02,702.02 L413.90,703.61 L413.75,705.21 L413.57,706.80 L413.35,708.40 L413.09,710.00 L412.79,711.60 L412.44,713.20 L412.03,714.81 L411.57,716.41 L411.05,718.02 L410.45,719.62 L409.78,721.23 L409.03,722.83 L408.19,724.42 L407.26,726.02 L406.22,727.60 L406.22,728.39 L407.25,730.00 L408.19,731.61 L409.03,733.23 L409.78,734.85 L410.45,736.47 L411.05,738.09 L411.57,739.72 L412.03,741.34 L412.44,742.96 L412.79,744.58 L413.09,746.20 L413.35,747.82 L413.57,749.44 L413.75,751.05 L413.90,752.67 L414.02,754.28 L414.12,755.89 L414.19,757.50 L414.25,759.11 L414.29,760.72 L414.31,762.33 L414.33,763.94 L414.34,765.55 L414.34,767.16 L414.34,768.77 L414.34,770.38 L414.33,771.99 L414.33,773.60 L414.34,775.22 L414.35,776.83 L414.36,778.45 L414.39,780.06 L414.42,781.68 L414.44,783.30 L414.47,784.92 L414.49,786.54 L414.50,788.16 L414.52,789.78 L414.53,791.40 L414.54,793.02 L414.55,794.65 L414.56,796.27 L414.57,797.89 L414.58,799.52 L414.59,801.15 L414.60,802.77 L414.61,804.40 L414.63,806.03 L414.64,807.66 L414.66,809.29 L414.68,810.92 L414.71,812.55 L414.74,814.19 L414.77,815.82 L414.81,817.46 L414.86,819.10 L414.92,820.75 L414.98,822.39 L415.06,824.04 L415.15,825.69 L415.27,827.35 L415.42,829.00 L415.61,830.66 L415.84,832.32 L416.11,833.99 L416.41,835.65 L416.76,837.32 L417.15,838.99 L417.58,840.65 L418.07,842.32 L418.60,843.99 L419.19,845.66 L419.84,847.33 L420.56,849.00 L421.34,850.67 L422.21,852.34 L423.16,854.02 L424.20,855.70 L425.35,857.38 L426.62,859.08 L429.38,856.92 L428.24,855.37 L427.24,853.80 L426.38,852.23 L425.63,850.66 L424.98,849.08 L424.42,847.50 L423.95,845.92 L423.55,844.34 L423.22,842.76 L422.93,841.18 L422.70,839.60 L422.51,838.01 L422.34,836.43 L422.21,834.85 L422.09,833.26 L421.99,831.68 L421.90,830.09 L421.82,828.50 L421.73,826.90 L421.64,825.31 L421.55,823.71 L421.48,822.11 L421.41,820.50 L421.36,818.90 L421.31,817.29 L421.27,815.68 L421.24,814.06 L421.21,812.45 L421.18,810.83 L421.16,809.21 L421.14,807.59 L421.13,805.97 L421.11,804.35 L421.10,802.73 L421.09,801.10 L421.08,799.48 L421.07,797.86 L421.06,796.23 L421.05,794.60 L421.04,792.98 L421.03,791.35 L421.02,789.72 L421.00,788.09 L420.98,786.46 L420.97,784.83 L420.94,783.20 L420.92,781.57 L420.89,779.94 L420.85,778.30 L420.79,776.67 L420.71,775.03 L420.61,773.40 L420.50,771.76 L420.36,770.12 L420.21,768.48 L420.04,766.84 L419.84,765.20 L419.63,763.56 L419.40,761.92 L419.15,760.28 L418.88,758.64 L418.59,757.00 L418.27,755.36 L417.93,753.72 L417.56,752.08 L417.17,750.45 L416.75,748.81 L416.29,747.18 L415.81,745.55 L415.28,743.92 L414.72,742.29 L414.12,740.66 L413.48,739.03 L412.79,737.41 L412.04,735.78 L411.24,734.15 L410.38,732.52 L409.45,730.89 L408.46,729.25 L407.38,727.61 L407.38,728.40 L408.45,726.77 L409.45,725.15 L410.38,723.54 L411.24,721.92 L412.04,720.32 L412.78,718.71 L413.48,717.10 L414.12,715.49 L414.72,713.88 L415.28,712.27 L415.81,710.66 L416.29,709.05 L416.75,707.43 L417.17,705.82 L417.56,704.20 L417.93,702.58 L418.27,700.96 L418.59,699.34 L418.88,697.72 L419.15,696.10 L419.40,694.48 L419.63,692.85 L419.84,691.23 L420.04,689.61 L420.21,687.99 L420.36,686.37 L420.50,684.75 L420.61,683.13 L420.71,681.51 L420.79,679.90 L420.85,678.28 L420.89,676.66 L420.92,675.05 L420.94,673.44 L420.97,671.82 L420.98,670.21 L421.00,668.60 L421.02,666.99 L421.03,665.38 L421.04,663.77 L421.05,662.16 L421.06,660.56 L421.07,658.95 L421.08,657.35 L421.09,655.74 L421.10,654.14 L421.11,652.53 L421.13,650.93 L421.14,649.33 L421.16,647.73 L421.18,646.13 L421.21,644.53 L421.24,642.93 L421.27,641.34 L421.31,639.75 L421.36,638.15 L421.41,636.57 L421.48,634.98 L421.55,633.40 L421.64,631.82 L421.73,630.24 L421.82,628.67 L421.90,627.10 L421.99,625.53 L422.09,623.96 L422.21,622.39 L422.34,620.83 L422.50,619.27 L422.70,617.70 L422.93,616.14 L423.21,614.58 L423.55,613.02 L423.95,611.46 L424.42,609.90 L424.98,608.34 L425.62,606.78 L426.37,605.22 L427.24,603.67 L428.23,602.12 L429.37,600.59Z"/>
<path d="M426.65,868.89 L425.38,870.51 L424.22,872.12 L423.18,873.72 L422.22,875.32 L421.36,876.92 L420.57,878.52 L419.85,880.11 L419.20,881.71 L418.61,883.31 L418.07,884.90 L417.59,886.50 L417.15,888.09 L416.76,889.69 L416.41,891.28 L416.11,892.87 L415.84,894.46 L415.61,896.05 L415.42,897.64 L415.27,899.22 L415.15,900.80 L415.06,902.38 L414.99,903.95 L414.92,905.52 L414.86,907.09 L414.81,908.66 L414.77,910.22 L414.74,911.78 L414.71,913.34 L414.68,914.90 L414.66,916.46 L414.64,918.01 L414.63,919.57 L414.61,921.12 L414.60,922.68 L414.59,924.23 L414.58,925.78 L414.57,927.33 L414.56,928.88 L414.55,930.43 L414.54,931.98 L414.53,933.52 L414.52,935.07 L414.50,936.62 L414.49,938.16 L414.47,939.71 L414.44,941.25 L414.42,942.79 L414.39,944.33 L414.36,945.87 L414.35,947.41 L414.34,948.95 L414.33,950.49 L414.33,952.03 L414.34,953.56 L414.34,955.10 L414.34,956.63 L414.34,958.17 L414.33,959.70 L414.32,961.24 L414.29,962.77 L414.25,964.30 L414.19,965.84 L414.12,967.37 L414.02,968.91 L413.90,970.45 L413.75,971.98 L413.57,973.52 L413.35,975.07 L413.09,976.61 L412.79,978.15 L412.44,979.70 L412.04,981.25 L411.58,982.79 L411.05,984.34 L410.46,985.89 L409.79,987.44 L409.03,988.99 L408.20,990.53 L407.26,992.06 L406.23,993.59 L406.23,994.40 L407.26,995.95 L408.19,997.51 L409.03,999.07 L409.78,1000.63 L410.45,1002.20 L411.05,1003.77 L411.58,1005.33 L412.04,1006.90 L412.44,1008.47 L412.79,1010.03 L413.09,1011.59 L413.35,1013.16 L413.57,1014.72 L413.75,1016.27 L413.90,1017.83 L414.02,1019.39 L414.12,1020.94 L414.19,1022.50 L414.25,1024.05 L414.29,1025.60 L414.31,1027.16 L414.33,1028.71 L414.34,1030.26 L414.34,1031.81 L414.34,1033.37 L414.34,1034.92 L414.33,1036.48 L414.33,1038.03 L414.34,1039.59 L414.35,1041.15 L414.36,1042.71 L414.39,1044.26 L414.42,1045.82 L414.44,1047.39 L414.47,1048.95 L414.49,1050.51 L414.50,1052.08 L414.52,1053.64 L414.53,1055.21 L414.54,1056.77 L414.55,1058.34 L414.56,1059.91 L414.57,1061.48 L414.58,1063.05 L414.59,1064.62 L414.60,1066.19 L414.61,1067.76 L414.63,1069.33 L414.64,1070.90 L414.66,1072.48 L414.68,1074.05 L414.71,1075.63 L414.74,1077.21 L414.77,1078.79 L414.81,1080.37 L414.86,1081.96 L414.92,1083.54 L414.99,1085.13 L415.06,1086.73 L415.15,1088.32 L415.27,1089.92 L415.42,1091.52 L415.61,1093.13 L415.84,1094.73 L416.11,1096.34 L416.41,1097.95 L416.76,1099.56 L417.15,1101.18 L417.59,1102.79 L418.07,1104.40 L418.61,1106.02 L419.20,1107.63 L419.85,1109.25 L420.57,1110.86 L421.35,1112.48 L422.22,1114.09 L423.17,1115.71 L424.22,1117.33 L425.37,1118.96 L426.64,1120.60 L429.36,1118.40 L428.22,1116.90 L427.23,1115.39 L426.36,1113.88 L425.61,1112.36 L424.97,1110.84 L424.41,1109.31 L423.94,1107.79 L423.55,1106.27 L423.21,1104.74 L422.93,1103.22 L422.70,1101.70 L422.50,1100.17 L422.34,1098.65 L422.21,1097.12 L422.09,1095.59 L421.99,1094.07 L421.90,1092.53 L421.82,1091.00 L421.73,1089.47 L421.64,1087.93 L421.55,1086.39 L421.48,1084.84 L421.41,1083.29 L421.36,1081.74 L421.31,1080.19 L421.27,1078.63 L421.24,1077.08 L421.21,1075.52 L421.18,1073.96 L421.16,1072.40 L421.14,1070.83 L421.13,1069.27 L421.11,1067.70 L421.10,1066.14 L421.09,1064.57 L421.08,1063.00 L421.07,1061.44 L421.06,1059.87 L421.05,1058.30 L421.04,1056.73 L421.03,1055.16 L421.02,1053.58 L421.00,1052.01 L420.98,1050.44 L420.97,1048.86 L420.94,1047.29 L420.92,1045.71 L420.89,1044.14 L420.85,1042.56 L420.79,1040.98 L420.71,1039.40 L420.61,1037.82 L420.50,1036.23 L420.36,1034.65 L420.21,1033.07 L420.04,1031.49 L419.84,1029.90 L419.63,1028.32 L419.40,1026.73 L419.15,1025.15 L418.88,1023.56 L418.59,1021.98 L418.27,1020.39 L417.93,1018.81 L417.56,1017.23 L417.17,1015.65 L416.74,1014.07 L416.29,1012.49 L415.80,1010.92 L415.28,1009.34 L414.72,1007.77 L414.12,1006.20 L413.47,1004.63 L412.78,1003.06 L412.04,1001.49 L411.24,999.92 L410.38,998.34 L409.45,996.77 L408.45,995.19 L407.37,993.60 L407.37,994.41 L408.45,992.84 L409.45,991.27 L410.37,989.71 L411.24,988.16 L412.04,986.61 L412.78,985.06 L413.47,983.51 L414.12,981.95 L414.72,980.40 L415.28,978.85 L415.80,977.29 L416.29,975.73 L416.74,974.18 L417.17,972.62 L417.56,971.05 L417.93,969.49 L418.27,967.93 L418.59,966.36 L418.88,964.80 L419.15,963.23 L419.40,961.66 L419.63,960.10 L419.84,958.53 L420.04,956.97 L420.21,955.40 L420.36,953.84 L420.50,952.27 L420.61,950.71 L420.71,949.15 L420.79,947.59 L420.85,946.03 L420.89,944.47 L420.92,942.91 L420.94,941.35 L420.97,939.79 L420.98,938.24 L421.00,936.68 L421.02,935.13 L421.03,933.58 L421.04,932.02 L421.05,930.47 L421.06,928.92 L421.07,927.37 L421.08,925.82 L421.09,924.27 L421.10,922.72 L421.11,921.18 L421.13,919.63 L421.14,918.09 L421.16,916.54 L421.18,915.00 L421.21,913.46 L421.24,911.92 L421.27,910.38 L421.31,908.84 L421.36,907.31 L421.41,905.78 L421.48,904.25 L421.55,902.72 L421.64,901.20 L421.73,899.68 L421.82,898.16 L421.90,896.65 L421.99,895.14 L422.09,893.63 L422.21,892.12 L422.34,890.61 L422.50,889.11 L422.70,887.60 L422.93,886.10 L423.21,884.59 L423.54,883.09 L423.94,881.59 L424.41,880.08 L424.96,878.58 L425.61,877.08 L426.36,875.58 L427.22,874.08 L428.22,872.59 L429.35,871.11Z"/>
<path d="M429.82,1146.58 L429.22,1147.34 L428.64,1148.10 L428.07,1148.85 L427.52,1149.60 L426.98,1150.34 L426.46,1151.08 L425.95,1151.82 L425.46,1152.56 L424.99,1153.31 L424.53,1154.05 L424.10,1154.80 L423.68,1155.55 L423.29,1156.31 L422.91,1157.07 L422.57,1157.83 L422.24,1158.60 L421.95,1159.37 L421.68,1160.15 L421.44,1160.93 L421.23,1161.71 L421.04,1162.50 L420.86,1163.28 L420.70,1164.06 L420.55,1164.84 L420.41,1165.62 L420.27,1166.39 L420.15,1167.17 L420.04,1167.94 L419.94,1168.71 L419.84,1169.48 L419.75,1170.25 L419.67,1171.02 L419.59,1171.78 L419.52,1172.54 L419.45,1173.30 L419.39,1174.06 L419.34,1174.82 L419.28,1175.58 L419.23,1176.33 L419.19,1177.08 L419.14,1177.83 L419.10,1178.58 L419.06,1179.33 L419.02,1180.07 L418.97,1180.82 L418.93,1181.56 L418.89,1182.29 L418.84,1183.03 L418.80,1183.76 L418.77,1184.49 L418.74,1185.22 L418.72,1185.94 L418.70,1186.67 L418.68,1187.39 L418.66,1188.11 L418.64,1188.83 L418.62,1189.55 L418.59,1190.27 L418.55,1190.98 L418.50,1191.70 L418.43,1192.41 L418.35,1193.13 L418.26,1193.85 L418.14,1194.57 L417.99,1195.29 L417.82,1196.02 L417.61,1196.75 L417.37,1197.48 L417.09,1198.22 L416.77,1198.96 L416.39,1199.70 L415.96,1200.45 L415.47,1201.20 L414.92,1201.95 L414.29,1202.70 L413.59,1203.45 L412.81,1204.20 L411.94,1204.94 L410.98,1205.68 L409.92,1206.41 L409.91,1207.58 L410.97,1208.33 L411.94,1209.09 L412.80,1209.85 L413.59,1210.62 L414.29,1211.39 L414.91,1212.16 L415.46,1212.93 L415.95,1213.69 L416.38,1214.46 L416.76,1215.22 L417.09,1215.98 L417.37,1216.73 L417.61,1217.48 L417.81,1218.23 L417.99,1218.98 L418.13,1219.72 L418.25,1220.46 L418.35,1221.19 L418.43,1221.93 L418.49,1222.67 L418.55,1223.40 L418.59,1224.14 L418.62,1224.87 L418.64,1225.61 L418.66,1226.35 L418.68,1227.09 L418.70,1227.83 L418.72,1228.57 L418.74,1229.32 L418.77,1230.07 L418.80,1230.82 L418.84,1231.57 L418.89,1232.32 L418.93,1233.08 L418.97,1233.84 L419.02,1234.60 L419.06,1235.36 L419.10,1236.13 L419.14,1236.89 L419.19,1237.66 L419.23,1238.43 L419.28,1239.21 L419.34,1239.98 L419.39,1240.76 L419.45,1241.53 L419.52,1242.31 L419.59,1243.09 L419.67,1243.88 L419.75,1244.66 L419.84,1245.45 L419.93,1246.23 L420.04,1247.02 L420.15,1247.81 L420.27,1248.61 L420.40,1249.40 L420.55,1250.20 L420.70,1250.99 L420.86,1251.79 L421.03,1252.59 L421.22,1253.40 L421.43,1254.20 L421.67,1255.00 L421.94,1255.79 L422.24,1256.58 L422.56,1257.37 L422.91,1258.15 L423.28,1258.93 L423.67,1259.71 L424.09,1260.48 L424.52,1261.24 L424.98,1262.01 L425.45,1262.77 L425.94,1263.53 L426.45,1264.29 L426.97,1265.05 L427.51,1265.81 L428.06,1266.58 L428.63,1267.35 L429.21,1268.12 L429.81,1268.91 L432.19,1267.09 L431.65,1266.35 L431.16,1265.60 L430.70,1264.85 L430.28,1264.09 L429.89,1263.33 L429.54,1262.56 L429.22,1261.80 L428.92,1261.03 L428.65,1260.27 L428.40,1259.51 L428.17,1258.75 L427.96,1257.99 L427.77,1257.24 L427.58,1256.50 L427.41,1255.76 L427.24,1255.02 L427.07,1254.28 L426.91,1253.55 L426.74,1252.83 L426.57,1252.10 L426.40,1251.38 L426.24,1250.66 L426.09,1249.93 L425.95,1249.20 L425.83,1248.47 L425.70,1247.74 L425.59,1247.01 L425.49,1246.28 L425.39,1245.54 L425.30,1244.80 L425.22,1244.06 L425.14,1243.32 L425.07,1242.58 L425.00,1241.84 L424.94,1241.09 L424.88,1240.34 L424.82,1239.59 L424.77,1238.84 L424.72,1238.09 L424.68,1237.34 L424.63,1236.58 L424.59,1235.82 L424.55,1235.06 L424.51,1234.30 L424.47,1233.54 L424.42,1232.77 L424.38,1232.00 L424.33,1231.23 L424.28,1230.46 L424.21,1229.68 L424.12,1228.91 L424.02,1228.13 L423.91,1227.34 L423.78,1226.56 L423.63,1225.78 L423.46,1224.99 L423.28,1224.20 L423.08,1223.41 L422.86,1222.62 L422.61,1221.83 L422.35,1221.04 L422.07,1220.26 L421.76,1219.47 L421.42,1218.68 L421.06,1217.90 L420.67,1217.12 L420.25,1216.34 L419.80,1215.57 L419.31,1214.80 L418.79,1214.03 L418.22,1213.27 L417.61,1212.51 L416.96,1211.75 L416.26,1210.99 L415.50,1210.24 L414.68,1209.48 L413.79,1208.72 L412.84,1207.96 L411.81,1207.19 L410.69,1206.42 L410.68,1207.59 L411.80,1206.83 L412.83,1206.08 L413.79,1205.34 L414.67,1204.60 L415.49,1203.86 L416.25,1203.13 L416.95,1202.39 L417.61,1201.65 L418.22,1200.91 L418.78,1200.17 L419.31,1199.42 L419.79,1198.67 L420.25,1197.91 L420.67,1197.16 L421.06,1196.39 L421.42,1195.63 L421.75,1194.86 L422.06,1194.09 L422.35,1193.32 L422.61,1192.55 L422.85,1191.78 L423.07,1191.01 L423.28,1190.24 L423.46,1189.47 L423.63,1188.70 L423.77,1187.93 L423.91,1187.17 L424.02,1186.41 L424.12,1185.64 L424.21,1184.88 L424.28,1184.13 L424.33,1183.37 L424.38,1182.62 L424.42,1181.87 L424.47,1181.12 L424.51,1180.38 L424.55,1179.63 L424.59,1178.89 L424.63,1178.15 L424.68,1177.42 L424.72,1176.68 L424.77,1175.95 L424.82,1175.22 L424.88,1174.49 L424.93,1173.76 L425.00,1173.03 L425.06,1172.31 L425.14,1171.58 L425.22,1170.86 L425.30,1170.14 L425.39,1169.42 L425.49,1168.71 L425.59,1167.99 L425.70,1167.28 L425.82,1166.57 L425.95,1165.86 L426.09,1165.15 L426.24,1164.44 L426.40,1163.74 L426.56,1163.04 L426.74,1162.33 L426.90,1161.63 L427.07,1160.91 L427.23,1160.20 L427.40,1159.48 L427.58,1158.76 L427.76,1158.03 L427.96,1157.30 L428.17,1156.56 L428.39,1155.82 L428.64,1155.08 L428.91,1154.34 L429.21,1153.59 L429.53,1152.84 L429.88,1152.10 L430.27,1151.35 L430.69,1150.61 L431.15,1149.87 L431.64,1149.14 L432.18,1148.42Z"/>
<path d="M607.21,301.94 L606.77,302.67 L606.35,303.40 L605.92,304.12 L605.50,304.84 L605.09,305.56 L604.69,306.27 L604.30,306.98 L603.92,307.70 L603.54,308.41 L603.18,309.13 L602.84,309.84 L602.51,310.56 L602.19,311.29 L601.89,312.01 L601.61,312.74 L601.35,313.47 L601.11,314.21 L600.89,314.95 L600.69,315.69 L600.52,316.43 L600.37,317.18 L600.23,317.92 L600.10,318.66 L599.97,319.40 L599.85,320.14 L599.74,320.88 L599.64,321.62 L599.54,322.35 L599.46,323.09 L599.37,323.82 L599.29,324.56 L599.22,325.29 L599.15,326.02 L599.09,326.75 L599.03,327.47 L598.98,328.20 L598.92,328.93 L598.88,329.65 L598.83,330.37 L598.79,331.10 L598.75,331.82 L598.71,332.53 L598.67,333.25 L598.63,333.97 L598.59,334.68 L598.55,335.39 L598.52,336.10 L598.48,336.81 L598.44,337.52 L598.41,338.22 L598.39,338.92 L598.38,339.62 L598.37,340.32 L598.36,341.02 L598.35,341.72 L598.35,342.41 L598.34,343.10 L598.32,343.80 L598.30,344.49 L598.28,345.18 L598.24,345.87 L598.19,346.56 L598.13,347.26 L598.05,347.95 L597.95,348.65 L597.82,349.34 L597.68,350.04 L597.50,350.74 L597.29,351.45 L597.05,352.15 L596.77,352.86 L596.44,353.57 L596.07,354.29 L595.65,355.00 L595.17,355.71 L594.63,356.43 L594.02,357.14 L593.35,357.85 L592.60,358.55 L591.76,359.25 L591.76,360.34 L592.59,361.06 L593.34,361.78 L594.02,362.50 L594.62,363.23 L595.16,363.96 L595.64,364.69 L596.07,365.42 L596.44,366.15 L596.77,366.88 L597.05,367.60 L597.29,368.32 L597.50,369.04 L597.67,369.76 L597.82,370.48 L597.94,371.19 L598.04,371.90 L598.12,372.61 L598.19,373.32 L598.24,374.03 L598.28,374.74 L598.30,375.44 L598.32,376.15 L598.34,376.86 L598.35,377.57 L598.35,378.28 L598.36,379.00 L598.37,379.71 L598.38,380.43 L598.39,381.15 L598.41,381.86 L598.44,382.59 L598.48,383.31 L598.52,384.03 L598.55,384.76 L598.59,385.49 L598.63,386.22 L598.67,386.95 L598.71,387.68 L598.75,388.42 L598.79,389.15 L598.83,389.89 L598.88,390.63 L598.92,391.37 L598.98,392.11 L599.03,392.85 L599.09,393.60 L599.15,394.34 L599.22,395.09 L599.29,395.84 L599.37,396.58 L599.45,397.33 L599.54,398.08 L599.64,398.84 L599.74,399.59 L599.85,400.34 L599.97,401.10 L600.09,401.86 L600.23,402.61 L600.37,403.37 L600.52,404.13 L600.69,404.89 L600.89,405.65 L601.10,406.40 L601.34,407.15 L601.60,407.90 L601.89,408.65 L602.18,409.39 L602.50,410.13 L602.83,410.86 L603.18,411.60 L603.54,412.33 L603.91,413.06 L604.29,413.79 L604.69,414.52 L605.09,415.25 L605.50,415.98 L605.92,416.72 L606.34,417.45 L606.77,418.20 L607.20,418.95 L609.80,417.45 L609.41,416.74 L609.05,416.03 L608.72,415.30 L608.42,414.58 L608.14,413.85 L607.89,413.12 L607.66,412.39 L607.45,411.66 L607.26,410.93 L607.09,410.20 L606.93,409.48 L606.78,408.75 L606.63,408.03 L606.50,407.31 L606.37,406.60 L606.24,405.89 L606.12,405.18 L605.99,404.47 L605.85,403.77 L605.71,403.07 L605.57,402.37 L605.44,401.67 L605.32,400.96 L605.20,400.26 L605.09,399.56 L604.99,398.85 L604.89,398.14 L604.80,397.44 L604.72,396.73 L604.64,396.02 L604.57,395.30 L604.50,394.59 L604.43,393.88 L604.37,393.16 L604.32,392.45 L604.26,391.73 L604.21,391.01 L604.16,390.29 L604.12,389.57 L604.08,388.85 L604.04,388.12 L604.00,387.40 L603.96,386.67 L603.92,385.94 L603.89,385.21 L603.85,384.48 L603.81,383.75 L603.77,383.01 L603.72,382.27 L603.66,381.54 L603.59,380.79 L603.50,380.05 L603.40,379.31 L603.28,378.56 L603.15,377.82 L603.01,377.07 L602.85,376.32 L602.68,375.57 L602.49,374.82 L602.28,374.06 L602.06,373.31 L601.82,372.56 L601.57,371.81 L601.29,371.06 L600.99,370.31 L600.67,369.56 L600.32,368.82 L599.95,368.08 L599.55,367.34 L599.12,366.60 L598.66,365.86 L598.17,365.13 L597.64,364.40 L597.08,363.67 L596.47,362.94 L595.81,362.21 L595.11,361.48 L594.35,360.74 L593.53,360.00 L592.64,359.26 L592.64,360.35 L593.52,359.62 L594.34,358.90 L595.10,358.18 L595.81,357.46 L596.46,356.75 L597.07,356.04 L597.64,355.32 L598.17,354.61 L598.66,353.89 L599.12,353.17 L599.55,352.45 L599.94,351.73 L600.32,351.00 L600.66,350.27 L600.98,349.54 L601.28,348.81 L601.56,348.08 L601.82,347.34 L602.06,346.60 L602.28,345.87 L602.49,345.13 L602.68,344.40 L602.85,343.66 L603.01,342.93 L603.15,342.20 L603.28,341.47 L603.40,340.74 L603.50,340.01 L603.58,339.28 L603.66,338.56 L603.72,337.83 L603.77,337.11 L603.81,336.39 L603.85,335.67 L603.89,334.96 L603.92,334.24 L603.96,333.53 L604.00,332.82 L604.04,332.11 L604.08,331.40 L604.12,330.70 L604.16,329.99 L604.21,329.29 L604.26,328.59 L604.31,327.89 L604.37,327.19 L604.43,326.49 L604.50,325.79 L604.57,325.10 L604.64,324.40 L604.72,323.71 L604.80,323.02 L604.89,322.33 L604.99,321.64 L605.09,320.95 L605.20,320.26 L605.32,319.57 L605.44,318.89 L605.57,318.20 L605.71,317.52 L605.85,316.84 L605.98,316.15 L606.11,315.46 L606.24,314.77 L606.37,314.07 L606.50,313.37 L606.63,312.67 L606.77,311.97 L606.92,311.26 L607.08,310.55 L607.26,309.84 L607.45,309.12 L607.66,308.41 L607.89,307.70 L608.14,306.98 L608.41,306.27 L608.71,305.56 L609.04,304.85 L609.40,304.16 L609.79,303.46Z"/>
<path d="M608.20,425.25 L607.75,426.03 L607.30,426.81 L606.86,427.58 L606.43,428.35 L606.01,429.11 L605.59,429.88 L605.19,430.64 L604.79,431.40 L604.41,432.16 L604.03,432.93 L603.68,433.69 L603.33,434.46 L603.01,435.23 L602.70,436.01 L602.41,436.79 L602.14,437.57 L601.89,438.35 L601.67,439.14 L601.47,439.93 L601.29,440.72 L601.13,441.51 L600.98,442.30 L600.85,443.09 L600.72,443.88 L600.59,444.67 L600.48,445.46 L600.37,446.24 L600.27,447.03 L600.18,447.81 L600.09,448.59 L600.01,449.37 L599.94,450.15 L599.86,450.93 L599.80,451.71 L599.74,452.49 L599.68,453.26 L599.63,454.03 L599.58,454.81 L599.53,455.58 L599.48,456.35 L599.44,457.12 L599.40,457.88 L599.36,458.65 L599.32,459.41 L599.28,460.18 L599.24,460.94 L599.20,461.70 L599.16,462.45 L599.12,463.21 L599.09,463.96 L599.07,464.71 L599.05,465.46 L599.04,466.21 L599.03,466.96 L599.02,467.70 L599.01,468.45 L599.00,469.19 L598.98,469.93 L598.95,470.67 L598.92,471.41 L598.88,472.15 L598.82,472.90 L598.75,473.64 L598.66,474.38 L598.56,475.12 L598.42,475.87 L598.27,476.62 L598.08,477.37 L597.86,478.12 L597.60,478.87 L597.30,479.63 L596.96,480.39 L596.57,481.15 L596.12,481.92 L595.62,482.68 L595.05,483.44 L594.42,484.20 L593.71,484.96 L592.93,485.71 L592.06,486.46 L592.06,487.54 L592.93,488.29 L593.71,489.04 L594.42,489.80 L595.05,490.56 L595.62,491.32 L596.12,492.08 L596.57,492.85 L596.96,493.61 L597.30,494.37 L597.60,495.13 L597.86,495.88 L598.08,496.63 L598.27,497.38 L598.42,498.13 L598.56,498.88 L598.66,499.62 L598.75,500.36 L598.82,501.10 L598.88,501.85 L598.92,502.59 L598.95,503.33 L598.98,504.07 L599.00,504.81 L599.01,505.55 L599.02,506.30 L599.03,507.04 L599.04,507.79 L599.05,508.54 L599.07,509.29 L599.09,510.04 L599.12,510.79 L599.16,511.55 L599.20,512.30 L599.24,513.06 L599.28,513.82 L599.32,514.59 L599.36,515.35 L599.40,516.12 L599.44,516.88 L599.48,517.65 L599.53,518.42 L599.58,519.19 L599.63,519.97 L599.68,520.74 L599.74,521.51 L599.80,522.29 L599.86,523.07 L599.94,523.85 L600.01,524.63 L600.09,525.41 L600.18,526.19 L600.27,526.97 L600.37,527.76 L600.48,528.54 L600.59,529.33 L600.72,530.12 L600.85,530.91 L600.98,531.70 L601.13,532.49 L601.29,533.28 L601.47,534.07 L601.67,534.86 L601.89,535.65 L602.14,536.43 L602.41,537.21 L602.70,537.99 L603.01,538.77 L603.33,539.54 L603.68,540.31 L604.03,541.07 L604.41,541.84 L604.79,542.60 L605.19,543.36 L605.59,544.12 L606.01,544.89 L606.43,545.65 L606.86,546.42 L607.30,547.19 L607.75,547.97 L608.20,548.75 L610.80,547.25 L610.39,546.51 L610.01,545.76 L609.67,545.01 L609.35,544.25 L609.06,543.49 L608.80,542.73 L608.56,541.96 L608.33,541.20 L608.13,540.44 L607.94,539.68 L607.77,538.92 L607.61,538.16 L607.46,537.41 L607.31,536.66 L607.18,535.91 L607.04,535.17 L606.91,534.43 L606.77,533.69 L606.63,532.95 L606.48,532.22 L606.34,531.49 L606.20,530.75 L606.07,530.02 L605.95,529.28 L605.83,528.54 L605.73,527.81 L605.63,527.07 L605.53,526.33 L605.44,525.58 L605.36,524.84 L605.28,524.10 L605.21,523.35 L605.14,522.61 L605.08,521.86 L605.02,521.11 L604.97,520.36 L604.91,519.61 L604.87,518.86 L604.82,518.10 L604.77,517.35 L604.73,516.59 L604.69,515.83 L604.65,515.08 L604.61,514.31 L604.57,513.55 L604.53,512.79 L604.49,512.02 L604.45,511.25 L604.40,510.48 L604.34,509.71 L604.26,508.94 L604.17,508.16 L604.07,507.39 L603.95,506.61 L603.82,505.83 L603.67,505.05 L603.51,504.26 L603.33,503.48 L603.14,502.70 L602.93,501.91 L602.70,501.13 L602.46,500.35 L602.19,499.56 L601.91,498.78 L601.60,498.00 L601.27,497.22 L600.91,496.44 L600.53,495.67 L600.12,494.89 L599.68,494.12 L599.20,493.36 L598.69,492.59 L598.14,491.83 L597.56,491.07 L596.92,490.30 L596.24,489.54 L595.51,488.78 L594.72,488.01 L593.86,487.24 L592.94,486.46 L592.94,487.54 L593.86,486.76 L594.72,485.99 L595.51,485.22 L596.24,484.46 L596.92,483.70 L597.56,482.93 L598.14,482.17 L598.69,481.41 L599.20,480.64 L599.68,479.88 L600.12,479.11 L600.53,478.33 L600.91,477.56 L601.27,476.78 L601.60,476.00 L601.91,475.22 L602.19,474.44 L602.46,473.65 L602.70,472.87 L602.93,472.09 L603.14,471.30 L603.33,470.52 L603.51,469.74 L603.67,468.95 L603.82,468.17 L603.95,467.39 L604.07,466.61 L604.17,465.84 L604.26,465.06 L604.34,464.29 L604.40,463.52 L604.45,462.75 L604.49,461.98 L604.53,461.21 L604.57,460.45 L604.61,459.69 L604.65,458.92 L604.69,458.17 L604.73,457.41 L604.77,456.65 L604.82,455.90 L604.87,455.14 L604.91,454.39 L604.97,453.64 L605.02,452.89 L605.08,452.14 L605.14,451.39 L605.21,450.65 L605.28,449.90 L605.36,449.16 L605.44,448.42 L605.53,447.67 L605.63,446.93 L605.73,446.19 L605.83,445.46 L605.95,444.72 L606.07,443.98 L606.20,443.25 L606.34,442.51 L606.48,441.78 L606.63,441.05 L606.77,440.31 L606.91,439.57 L607.04,438.83 L607.18,438.09 L607.31,437.34 L607.46,436.59 L607.61,435.84 L607.77,435.08 L607.94,434.32 L608.13,433.56 L608.33,432.80 L608.56,432.04 L608.80,431.27 L609.06,430.51 L609.35,429.75 L609.67,428.99 L610.01,428.24 L610.39,427.49 L610.80,426.75Z"/>
</g>
<line x1="558.0" y1="732.5" x2="575.9" y2="711.7" stroke="#141a12" stroke-width="2.4"/>
<path d="M579.5,707.5 L577.9,713.4 L573.9,710.0 Z" fill="#141a12"/>
<line x1="558.0" y1="732.5" x2="573.5" y2="732.5" stroke="#141a12" stroke-width="2.4"/>
<path d="M579.0,732.5 L573.5,735.1 L573.5,729.9 Z" fill="#141a12"/>
<line x1="558.0" y1="732.5" x2="576.1" y2="755.7" stroke="#141a12" stroke-width="2.4"/>
<path d="M579.5,760.0 L574.1,757.3 L578.2,754.1 Z" fill="#141a12"/>
<line x1="500.0" y1="940.0" x2="519.3" y2="919.0" stroke="#141a12" stroke-width="2.4"/>
<path d="M523.0,915.0 L521.2,920.8 L517.4,917.3 Z" fill="#141a12"/>
<line x1="500.0" y1="940.0" x2="515.5" y2="940.0" stroke="#141a12" stroke-width="2.4"/>
<path d="M521.0,940.0 L515.5,942.6 L515.5,937.4 Z" fill="#141a12"/>
<line x1="500.0" y1="940.0" x2="520.4" y2="963.8" stroke="#141a12" stroke-width="2.4"/>
<path d="M524.0,968.0 L518.4,965.5 L522.4,962.1 Z" fill="#141a12"/>
<line x1="631.3" y1="1051.0" x2="648.0" y2="1035.3" stroke="#141a12" stroke-width="2.4"/>
<path d="M652.0,1031.5 L649.8,1037.2 L646.2,1033.4 Z" fill="#141a12"/>
<line x1="631.3" y1="1051.0" x2="647.1" y2="1062.7" stroke="#141a12" stroke-width="2.4"/>
<path d="M651.5,1066.0 L645.5,1064.8 L648.6,1060.6 Z" fill="#141a12"/>
<g fill="#141a12" stroke="#141a12" stroke-width="0.25" style="word-spacing:-1.5px">
<text x="202.00" y="220.00" font-size="20.00" textLength="749.80" lengthAdjust="spacingAndGlyphs" style="letter-spacing:0.6px;word-spacing:0">Circulația asigură transportul diferitelor substanțe în organismul unei viețuitoare.</text>
<text x="432.50" y="252.00" font-size="20.00" textLength="448.30" lengthAdjust="spacingAndGlyphs">–  depinde de fotosinteză, transpirație şi respirație</text>
<text x="432.50" y="280.00" font-size="20.00" textLength="499.30" lengthAdjust="spacingAndGlyphs">–  reprezintă transportul sevei brute și al sevei elaborate</text>
<text x="435.80" y="367.00" font-size="20.00" textLength="113.00" lengthAdjust="spacingAndGlyphs" style="letter-spacing:0.6px;word-spacing:0">– seva brută</text>
<text x="608.00" y="324.00" font-size="20.00" textLength="280.80" lengthAdjust="spacingAndGlyphs">–  conține apă și săruri minerale</text>
<text x="611.00" y="351.00" font-size="20.00" textLength="513.80" lengthAdjust="spacingAndGlyphs">–este absorbită prin zona piliferă a rădăcinii, pasiv și activ</text>
<text x="608.00" y="379.50" font-size="20.00" textLength="428.40" lengthAdjust="spacingAndGlyphs">–  circulă ascendent, prin vase lemnoase – <tspan font-weight="700">xilem</tspan></text>
<text x="608.00" y="407.50" font-size="20.00" textLength="421.50" lengthAdjust="spacingAndGlyphs">–ajunge la frunză unde  participă la fotosinteză</text>
<text x="435.50" y="495.00" font-size="20.00" textLength="150.80" lengthAdjust="spacingAndGlyphs" style="letter-spacing:0.6px;word-spacing:0">– seva elaborată</text>
<text x="608.75" y="449.00" font-size="20.00" textLength="404.05" lengthAdjust="spacingAndGlyphs">–  conține substanțe organice dizolvate în apă</text>
<text x="608.75" y="476.00" font-size="20.00" textLength="469.05" lengthAdjust="spacingAndGlyphs">–  este produsă în frunze prin procesul de fotosinteză</text>
<text x="610.00" y="504.50" font-size="20.00" textLength="541.20" lengthAdjust="spacingAndGlyphs">–circulă ascendent și descendent prin vase liberiene – <tspan font-weight="700">floem</tspan></text>
<text x="608.75" y="532.50" font-size="20.00" textLength="445.85" lengthAdjust="spacingAndGlyphs">–  circulă activ, cu viteză mai mică decât seva brută</text>
<text x="432.50" y="574.00" font-size="20.00" textLength="725.00" lengthAdjust="spacingAndGlyphs">–  absorbția și circulația apei în plantă sunt influențate de <tspan font-weight="700">factori externi</tspan> și <tspan font-weight="700">interni</tspan></text>
<text x="432.50" y="625.00" font-size="20.00" textLength="426.30" lengthAdjust="spacingAndGlyphs">–  <tspan font-weight="700">mediul intern</tspan>: sânge, limfă și lichid interstiţial</text>
<text x="432.50" y="652.00" font-size="20.00" textLength="495.30" lengthAdjust="spacingAndGlyphs">–  <tspan font-weight="700">sângele</tspan> este format din : <tspan font-weight="700">plasmă</tspan> şi <tspan font-weight="700">elemente figurate</tspan></text>
<text x="452.00" y="681.00" font-size="20.00" textLength="589.80" lengthAdjust="spacingAndGlyphs">a) <tspan font-weight="700">plasma</tspan> (partea lichidă) – rol în transportul diferitelor substanțe</text>
<text x="451.00" y="723.75" font-size="20.00" textLength="112.30" lengthAdjust="spacingAndGlyphs">b) <tspan font-weight="700">elemente</tspan></text>
<text x="451.00" y="749.50" font-size="20.00" textLength="71.80" lengthAdjust="spacingAndGlyphs"><tspan font-weight="700">figurate</tspan></text>
<text x="582.50" y="709.50" font-size="20.00" textLength="468.00" lengthAdjust="spacingAndGlyphs"><tspan font-weight="700">globule roşii</tspan> (<tspan font-weight="700">hematii</tspan>) – transportă gaze respiratorii</text>
<text x="582.50" y="737.00" font-size="20.00" textLength="469.60" lengthAdjust="spacingAndGlyphs"><tspan font-weight="700">globule albe</tspan> (<tspan font-weight="700">leucocite</tspan>) – rol în imunitate (apărare)</text>
<text x="582.50" y="765.00" font-size="20.00" textLength="456.30" lengthAdjust="spacingAndGlyphs"><tspan font-weight="700">trombocite</tspan> (<tspan font-weight="700">plachete sanguine</tspan>) – rol în coagulare</text>
<text x="432.50" y="793.00" font-size="20.00" textLength="581.30" lengthAdjust="spacingAndGlyphs">–  există <tspan font-weight="700">patru grupe de sânge</tspan>: <tspan font-weight="700">0, A, B, AB</tspan> (în funcţie de antigene)</text>
<text x="432.50" y="821.00" font-size="20.00" textLength="704.30" lengthAdjust="spacingAndGlyphs">–  cunoaşterea grupelor de sânge are importanţă în cazul transfuziilor de sânge</text>
<text x="432.50" y="849.00" font-size="20.00" textLength="572.30" lengthAdjust="spacingAndGlyphs">–  imunizarea organismului se poate face cu vaccinuri şi cu seruri</text>
<text x="432.50" y="890.50" font-size="20.00" textLength="709.30" lengthAdjust="spacingAndGlyphs">–  este format din <tspan font-weight="700">inimă</tspan> și <tspan font-weight="700">vase de sânge</tspan>: artere, arteriole, capilare, venule, vene</text>
<text x="432.50" y="948.00" font-size="20.00" textLength="62.80" lengthAdjust="spacingAndGlyphs">–inima</text>
<text x="530.00" y="919.50" font-size="20.00" textLength="401.80" lengthAdjust="spacingAndGlyphs">este formată din două atrii şi două ventricule</text>
<text x="530.00" y="948.00" font-size="20.00" textLength="484.80" lengthAdjust="spacingAndGlyphs">pompează sângele în artere și preia sângele de la vene</text>
<text x="530.00" y="975.00" font-size="20.00" textLength="565.80" lengthAdjust="spacingAndGlyphs" style="letter-spacing:0.6px;word-spacing:0">are activitate ritmică (ciclu cardiac – succesiune a unei sistole</text>
<text x="530.00" y="1002.50" font-size="20.00" textLength="144.55" lengthAdjust="spacingAndGlyphs" style="letter-spacing:0.6px;word-spacing:0">și unei diastole)</text>
<text x="432.50" y="1059.00" font-size="20.00" textLength="195.80" lengthAdjust="spacingAndGlyphs">–  circulaţia este dublă</text>
<text x="657.50" y="1034.00" font-size="20.00" textLength="379.30" lengthAdjust="spacingAndGlyphs" style="letter-spacing:0.6px;word-spacing:0;stroke-width:0.2px"><tspan font-weight="700">pulmonară (mică) între inimă şi plămâni</tspan></text>
<text x="657.50" y="1070.00" font-size="20.00" textLength="447.30" lengthAdjust="spacingAndGlyphs" style="letter-spacing:0.6px;word-spacing:0;stroke-width:0.2px"><tspan font-weight="700">sistemică (mare) între inimă şi celulele corpului</tspan></text>
<text x="432.50" y="1114.50" font-size="20.00" textLength="710.30" lengthAdjust="spacingAndGlyphs">–  schimburile sânge – celule se realizează prin intermediul capilarelor sanguine</text>
<text x="432.50" y="1174.50" font-size="20.00" textLength="485.30" lengthAdjust="spacingAndGlyphs">–  peşti: circulaţie simplă, inimă cu două camere ( A+V))</text>
<text x="432.50" y="1202.50" font-size="20.00" textLength="610.30" lengthAdjust="spacingAndGlyphs">–  amfibieni: circulaţie dublă incompletă, inimă cu trei camere (2A+V)</text>
<text x="432.50" y="1230.50" font-size="20.00" textLength="589.30" lengthAdjust="spacingAndGlyphs">–  reptile: circulaţie dublă, incompletă, inimă cu trei camere (2A+V)</text>
<text x="432.50" y="1258.00" font-size="20.00" textLength="704.30" lengthAdjust="spacingAndGlyphs">–  păsări şi mamifere: circulaţie dublă, completă, inimă cu patru camere(2A+2V)</text>
<text x="154.00" y="1388.00" font-size="20.00" textLength="492.80" lengthAdjust="spacingAndGlyphs"><tspan font-weight="700">Observă la microscop un frotiu de sânge (preparat fix).</tspan></text>
<text x="154.00" y="1416.60" font-size="20.00" textLength="644.80" lengthAdjust="spacingAndGlyphs">1. Identifică și desenează pe caiet elementele figurate pe care le-ai văzut;</text>
<text x="154.00" y="1445.00" font-size="20.00" textLength="393.80" lengthAdjust="spacingAndGlyphs">2. Compară desenul tău cu cele ale colegilor;</text>
<text x="154.00" y="1472.60" font-size="20.00" textLength="538.80" lengthAdjust="spacingAndGlyphs">3. Evidențiază, cu ajutorul profesorului, cel mai corect desen.</text>
</g>
<g fill="#ffffff" font-weight="700">
<g filter="url(#glow)" opacity="0.55"><text x="211.00" y="397.00" font-size="24.50" textLength="111.80" lengthAdjust="spacingAndGlyphs" font-weight="700" stroke="#e8fff0" stroke-width="2.5">Circulaţia</text></g>
<text x="211.00" y="397.00" font-size="24.50" textLength="111.80" lengthAdjust="spacingAndGlyphs" font-weight="700">Circulaţia</text>
<g filter="url(#glow)" opacity="0.55"><text x="214.40" y="424.20" font-size="24.50" textLength="105.00" lengthAdjust="spacingAndGlyphs" font-weight="700" stroke="#e8fff0" stroke-width="2.5">la plante</text></g>
<text x="214.40" y="424.20" font-size="24.50" textLength="105.00" lengthAdjust="spacingAndGlyphs" font-weight="700">la plante</text>
<g filter="url(#glow)" opacity="0.55"><text x="210.00" y="635.90" font-size="24.50" textLength="112.80" lengthAdjust="spacingAndGlyphs" font-weight="700" stroke="#e8fff0" stroke-width="2.5">Circulaţia</text></g>
<text x="210.00" y="635.90" font-size="24.50" textLength="112.80" lengthAdjust="spacingAndGlyphs" font-weight="700">Circulaţia</text>
<g filter="url(#glow)" opacity="0.55"><text x="204.00" y="664.20" font-size="24.50" textLength="125.10" lengthAdjust="spacingAndGlyphs" font-weight="700" stroke="#e8fff0" stroke-width="2.5">la animale</text></g>
<text x="204.00" y="664.20" font-size="24.50" textLength="125.10" lengthAdjust="spacingAndGlyphs" font-weight="700">la animale</text>
<g filter="url(#glow)" opacity="0.55"><text x="170.40" y="746.00" font-size="21.50" textLength="163.70" lengthAdjust="spacingAndGlyphs" font-weight="700" stroke="#e8fff0" stroke-width="2.5">a. mediul intern</text></g>
<text x="170.40" y="746.00" font-size="21.50" textLength="163.70" lengthAdjust="spacingAndGlyphs" font-weight="700">a. mediul intern</text>
<g filter="url(#glow)" opacity="0.55"><text x="165.20" y="1000.70" font-size="21.50" textLength="207.30" lengthAdjust="spacingAndGlyphs" font-weight="700" stroke="#e8fff0" stroke-width="2.5">b. sistemul circulator</text></g>
<text x="165.20" y="1000.70" font-size="21.50" textLength="207.30" lengthAdjust="spacingAndGlyphs" font-weight="700">b. sistemul circulator</text>
<g filter="url(#glow)" opacity="0.55"><text x="165.20" y="1024.20" font-size="21.50" textLength="138.10" lengthAdjust="spacingAndGlyphs" font-weight="700" stroke="#e8fff0" stroke-width="2.5">sanguin la om</text></g>
<text x="165.20" y="1024.20" font-size="21.50" textLength="138.10" lengthAdjust="spacingAndGlyphs" font-weight="700">sanguin la om</text>
<g filter="url(#glow)" opacity="0.55"><text x="170.40" y="1191.50" font-size="21.50" textLength="164.40" lengthAdjust="spacingAndGlyphs" font-weight="700" stroke="#e8fff0" stroke-width="2.5">c. particularităţi</text></g>
<text x="170.40" y="1191.50" font-size="21.50" textLength="164.40" lengthAdjust="spacingAndGlyphs" font-weight="700">c. particularităţi</text>
<g filter="url(#glow)" opacity="0.55"><text x="170.40" y="1216.00" font-size="21.50" textLength="137.10" lengthAdjust="spacingAndGlyphs" font-weight="700" stroke="#e8fff0" stroke-width="2.5">ale circulaţiei</text></g>
<text x="170.40" y="1216.00" font-size="21.50" textLength="137.10" lengthAdjust="spacingAndGlyphs" font-weight="700">ale circulaţiei</text>
<g filter="url(#glow)" opacity="0.55"><text x="170.40" y="1240.60" font-size="21.50" textLength="132.30" lengthAdjust="spacingAndGlyphs" font-weight="700" stroke="#e8fff0" stroke-width="2.5">la vertebrate</text></g>
<text x="170.40" y="1240.60" font-size="21.50" textLength="132.30" lengthAdjust="spacingAndGlyphs" font-weight="700">la vertebrate</text>
<g filter="url(#glow)" opacity="0.25"><text x="217.00" y="1334.00" font-size="26.50" textLength="277.80" lengthAdjust="spacingAndGlyphs" font-weight="700" stroke="#f4e8ff" stroke-width="1.5">I. Activitate individuală</text></g>
<text x="217.00" y="1334.00" font-size="26.50" textLength="277.80" lengthAdjust="spacingAndGlyphs" font-weight="700">I. Activitate individuală</text>
</g>
</svg></body></html>
